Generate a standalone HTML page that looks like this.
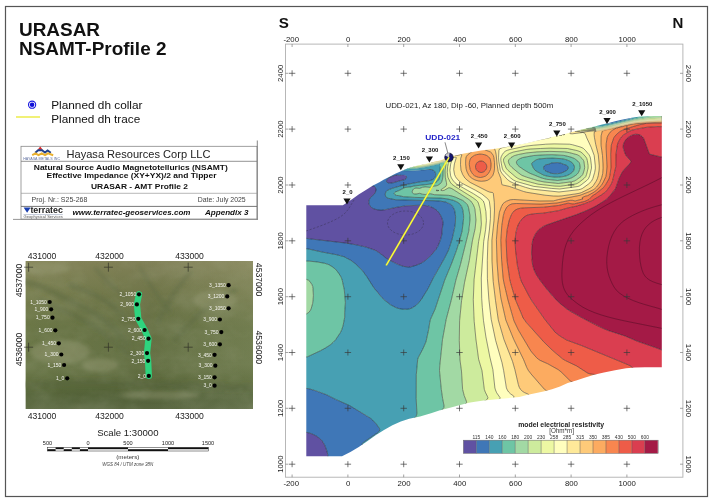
<!DOCTYPE html>
<html><head><meta charset="utf-8"><style>
html,body{margin:0;padding:0;background:#fff;width:714px;height:504px;overflow:hidden}
svg{display:block;font-family:"Liberation Sans",Arial,sans-serif}
</style></head><body>
<svg width="714" height="504" viewBox="0 0 714 504">
<defs>
<filter id="tex" x="0" y="0" width="100%" height="100%">
<feTurbulence type="fractalNoise" baseFrequency="0.035 0.05" numOctaves="4" seed="7" result="n"/>
<feColorMatrix in="n" type="matrix" values="0 0 0 0 0.45  0 0 0 0 0.48  0 0 0 0 0.34  -1.6 0 0 0 1.05" result="c"/>
<feComposite in="c" in2="SourceGraphic" operator="in"/>
</filter>
</defs>
<!-- outer frame -->
<rect x="5.5" y="6.5" width="702" height="490" fill="none" stroke="#555" stroke-width="1.2"/>
<!-- title -->
<text x="19" y="35.7" font-size="18.6" font-weight="bold" fill="#111" textLength="81" lengthAdjust="spacingAndGlyphs">URASAR</text>
<text x="19" y="55.2" font-size="18.6" font-weight="bold" fill="#111" textLength="147.5" lengthAdjust="spacingAndGlyphs">NSAMT-Profile 2</text>
<!-- legend -->
<circle cx="32.1" cy="104.7" r="3.6" fill="#fff" stroke="#1818e0" stroke-width="1.1"/>
<circle cx="32.1" cy="104.7" r="2.3" fill="#1010d8"/>
<line x1="16" y1="117" x2="40" y2="117" stroke="#eeee55" stroke-width="1.6"/>
<text x="51.2" y="109" font-size="11.6" fill="#111" textLength="91.3" lengthAdjust="spacingAndGlyphs">Planned dh collar</text>
<text x="51.2" y="122.6" font-size="11.6" fill="#111" textLength="89" lengthAdjust="spacingAndGlyphs">Planned dh trace</text>
<!-- title block -->
<g id="tblock">
<rect x="21" y="146.3" width="236" height="72.8" fill="#fff" stroke="#888" stroke-width="0.8"/>
<line x1="21" y1="161.3" x2="257" y2="161.3" stroke="#777" stroke-width="0.8"/>
<line x1="21" y1="193.3" x2="257" y2="193.3" stroke="#999" stroke-width="0.7"/>
<line x1="21" y1="206.4" x2="257" y2="206.4" stroke="#666" stroke-width="0.9"/>
<line x1="13" y1="219.4" x2="258" y2="219.4" stroke="#888" stroke-width="0.9"/>
<line x1="257.3" y1="140.5" x2="257.3" y2="219.5" stroke="#777" stroke-width="0.9"/>
<text x="66.5" y="158.1" font-size="10.4" fill="#222" textLength="144" lengthAdjust="spacingAndGlyphs">Hayasa Resources Corp LLC</text>
<text x="33.8" y="169.9" font-size="8" font-weight="bold" fill="#111" textLength="194" lengthAdjust="spacingAndGlyphs">Natural Source Audio Magnetotellurics (NSAMT)</text>
<text x="46.5" y="178.4" font-size="8" font-weight="bold" fill="#111" textLength="170" lengthAdjust="spacingAndGlyphs">Effective Impedance (XY+YX)/2 and Tipper</text>
<text x="91" y="189" font-size="8" font-weight="bold" fill="#111" textLength="97" lengthAdjust="spacingAndGlyphs">URASAR - AMT Profile 2</text>
<text x="31.6" y="202.3" font-size="6.5" fill="#444" textLength="55.8" lengthAdjust="spacingAndGlyphs">Proj. Nr.: S25-268</text>
<text x="197.7" y="202.3" font-size="6.5" fill="#444" textLength="48" lengthAdjust="spacingAndGlyphs">Date: July 2025</text>
<text x="72.5" y="215.3" font-size="7.8" font-weight="bold" font-style="italic" fill="#111" textLength="118" lengthAdjust="spacingAndGlyphs">www.terratec-geoservices.com</text>
<text x="205" y="215.3" font-size="7.8" font-weight="bold" font-style="italic" fill="#111" textLength="43.5" lengthAdjust="spacingAndGlyphs">Appendix 3</text>
<!-- hayasa logo -->
<path d="M37.6,149.8 L40.2,146.6 L42.8,149.8 Z" fill="#d82a2a"/>
<polyline points="35.2,152.8 38.2,150.2 42,150.2 45,152.6 47.6,150.4 50.8,152.8" fill="none" stroke="#22408a" stroke-width="1.9"/>
<polyline points="32.2,155.2 35.5,153.4 38.5,155.2 41.8,153.4 45,155.2 48,153.4 53.2,155.2" fill="none" stroke="#e8b030" stroke-width="2"/>
<text x="23.2" y="160" font-size="3" fill="#6070a0" textLength="37" lengthAdjust="spacingAndGlyphs">HAYASA METALS INC</text>
<!-- terratec logo -->
<path d="M23.6,207.4 L30.6,207.4 L27.1,212.8 Z" fill="#1a3fb0"/>
<text x="30.4" y="212.8" font-size="8.8" font-weight="bold" fill="#222" textLength="32.5" lengthAdjust="spacingAndGlyphs">terratec</text>
<line x1="23.5" y1="214.6" x2="62.8" y2="214.6" stroke="#8090b0" stroke-width="0.5"/>
<text x="23.5" y="218.3" font-size="3.3" fill="#555" textLength="39.3" lengthAdjust="spacingAndGlyphs">Geophysical Services</text>
</g>
<!-- MAP -->
<g id="map">
<linearGradient id="mapg" x1="0" y1="0" x2="0" y2="1">
<stop offset="0" stop-color="#86865a"/><stop offset="0.2" stop-color="#787e4f"/><stop offset="0.45" stop-color="#6a7646"/>
<stop offset="0.7" stop-color="#6b7849"/><stop offset="0.82" stop-color="#5e6c3c"/><stop offset="0.9" stop-color="#56653a"/><stop offset="1" stop-color="#5f6d45"/>
</linearGradient>
<linearGradient id="maph" x1="0" y1="0" x2="1" y2="0">
<stop offset="0" stop-color="#000" stop-opacity="0"/><stop offset="0.55" stop-color="#000" stop-opacity="0.06"/><stop offset="1" stop-color="#fff" stop-opacity="0.05"/>
</linearGradient>
<filter id="blur2"><feGaussianBlur stdDeviation="2"/></filter>
<filter id="blur1"><feGaussianBlur stdDeviation="1"/></filter>
<clipPath id="mapclip"><rect x="25.4" y="261" width="227.6" height="148"/></clipPath>
<g clip-path="url(#mapclip)">
<rect x="25.4" y="261" width="227.6" height="148" fill="url(#mapg)"/>
<rect x="25.4" y="261" width="227.6" height="148" fill="url(#maph)"/>
<g fill="none" stroke="#57663f" stroke-opacity="0.45" filter="url(#blur2)" stroke-linecap="round">
<path d="M25 282 C45 286 60 296 80 306 S110 322 128 345" stroke-width="5"/>
<path d="M40 300 C60 310 85 318 100 330 S120 350 140 360" stroke-width="4"/>
<path d="M70 285 C90 292 110 300 125 318" stroke-width="4"/>
<path d="M95 268 C105 280 118 292 130 300" stroke-width="3"/>
<path d="M190 272 C180 285 168 300 158 322" stroke-width="4"/>
<path d="M235 290 C215 300 195 315 175 340" stroke-width="4"/>
<path d="M140 268 C150 285 160 300 170 312" stroke-width="3"/>
<path d="M25 385 C80 380 140 384 253 388" stroke-width="6"/>
</g>
<g fill="#9da17c" opacity="0.4" filter="url(#blur2)">
<ellipse cx="60" cy="352" rx="30" ry="12"/><ellipse cx="100" cy="365" rx="18" ry="7"/><ellipse cx="45" cy="268" rx="25" ry="6"/>
<ellipse cx="215" cy="300" rx="22" ry="10"/><ellipse cx="160" cy="395" rx="40" ry="4"/>
</g>
<rect x="25.4" y="261" width="227.6" height="148" fill="#000" filter="url(#tex)" opacity="0.2"/>
</g>
</g>
<g font-size="8.6" fill="#222" text-anchor="middle">
<text x="42.0" y="258.6">431000</text>
<text x="42.0" y="419.3">431000</text>
<text x="109.5" y="258.6">432000</text>
<text x="109.5" y="419.3">432000</text>
<text x="189.5" y="258.6">433000</text>
<text x="189.5" y="419.3">433000</text>
<text transform="translate(22.2,280.5) rotate(-90)">4537000</text>
<text transform="translate(256.2,279.6) rotate(90)">4537000</text>
<text transform="translate(22.2,349.5) rotate(-90)">4536000</text>
<text transform="translate(256.2,347.3) rotate(90)">4536000</text>
</g>
<g stroke="#2a2a22" stroke-width="0.8" opacity="0.8">
<path d="M24.1 267.2h9M28.6 262.7v9"/>
<path d="M24.1 347.2h9M28.6 342.7v9"/>
<path d="M103.9 267.2h9M108.4 262.7v9"/>
<path d="M103.9 347.2h9M108.4 342.7v9"/>
<path d="M183.7 267.2h9M188.2 262.7v9"/>
<path d="M183.7 347.2h9M188.2 342.7v9"/>
</g>
<polyline points="139.0,294.3 136.9,304.4 138.3,318.8 144.6,330.0 148.5,338.7 147.0,353.1 148.1,360.8 148.8,375.9" fill="none" stroke="#2ed47e" stroke-width="6.3" stroke-linejoin="round" stroke-linecap="round"/>
<g fill="#000">
<circle cx="49.7" cy="302.0" r="2.1"/>
<circle cx="51.1" cy="309.3" r="2.1"/>
<circle cx="52.5" cy="317.7" r="2.1"/>
<circle cx="55.3" cy="330.3" r="2.1"/>
<circle cx="58.8" cy="343.3" r="2.1"/>
<circle cx="61.3" cy="354.5" r="2.1"/>
<circle cx="64.1" cy="365.0" r="2.1"/>
<circle cx="67.2" cy="378.3" r="2.1"/>
<circle cx="139.0" cy="294.3" r="2.1"/>
<circle cx="136.9" cy="304.4" r="2.1"/>
<circle cx="138.3" cy="318.8" r="2.1"/>
<circle cx="144.6" cy="330.0" r="2.1"/>
<circle cx="148.5" cy="338.7" r="2.1"/>
<circle cx="147.0" cy="353.1" r="2.1"/>
<circle cx="148.1" cy="360.8" r="2.1"/>
<circle cx="148.8" cy="375.9" r="2.1"/>
<circle cx="228.6" cy="285.2" r="2.1"/>
<circle cx="227.2" cy="296.4" r="2.1"/>
<circle cx="228.6" cy="308.3" r="2.1"/>
<circle cx="219.9" cy="319.5" r="2.1"/>
<circle cx="221.3" cy="332.1" r="2.1"/>
<circle cx="219.9" cy="344.3" r="2.1"/>
<circle cx="214.6" cy="354.8" r="2.1"/>
<circle cx="215.3" cy="365.7" r="2.1"/>
<circle cx="214.6" cy="377.3" r="2.1"/>
<circle cx="214.6" cy="385.7" r="2.1"/>
</g>
<g font-size="5" fill="#f4f4f0" text-anchor="end">
<text x="46.9" y="303.7">1_1050</text>
<text x="48.3" y="311.0">1_900</text>
<text x="49.7" y="319.4">1_750</text>
<text x="52.5" y="332.0">1_600</text>
<text x="56.0" y="345.0">1_450</text>
<text x="58.5" y="356.2">1_300</text>
<text x="61.3" y="366.7">1_150</text>
<text x="64.4" y="380.0">1_0</text>
<text x="136.2" y="296.0">2_1050</text>
<text x="134.1" y="306.1">2_900</text>
<text x="135.5" y="320.5">2_750</text>
<text x="141.8" y="331.7">2_600</text>
<text x="145.7" y="340.4">2_450</text>
<text x="144.2" y="354.8">2_300</text>
<text x="145.3" y="362.5">2_150</text>
<text x="146.0" y="377.6">2_0</text>
<text x="225.8" y="286.9">3_1350</text>
<text x="224.4" y="298.1">3_1200</text>
<text x="225.8" y="310.0">3_1050</text>
<text x="217.1" y="321.2">3_900</text>
<text x="218.5" y="333.8">3_750</text>
<text x="217.1" y="346.0">3_600</text>
<text x="211.8" y="356.5">3_450</text>
<text x="212.5" y="367.4">3_300</text>
<text x="211.8" y="379.0">3_150</text>
<text x="211.8" y="387.4">3_0</text>
</g>
<text x="127.8" y="436.3" font-size="9.6" fill="#222" text-anchor="middle">Scale 1:30000</text>
<g font-size="5.6" fill="#222" text-anchor="middle">
<text x="47.5" y="445.3">500</text>
<text x="88.0" y="445.3">0</text>
<text x="128.0" y="445.3">500</text>
<text x="168.0" y="445.3">1000</text>
<text x="208.0" y="445.3">1500</text>
</g>
<rect x="47.5" y="447.4" width="160.8" height="3.6" fill="#fff" stroke="#222" stroke-width="0.5"/>
<rect x="47.5" y="449.2" width="8.1" height="1.8" fill="#111"/>
<rect x="55.6" y="447.4" width="8.1" height="1.8" fill="#111"/>
<rect x="63.7" y="449.2" width="8.1" height="1.8" fill="#111"/>
<rect x="71.8" y="447.4" width="8.1" height="1.8" fill="#111"/>
<rect x="79.9" y="449.2" width="8.1" height="1.8" fill="#111"/>
<rect x="88.0" y="447.4" width="40.0" height="1.8" fill="#111"/>
<rect x="128.0" y="449.2" width="40.0" height="1.8" fill="#111"/>
<rect x="168.0" y="447.4" width="40.3" height="1.8" fill="#111"/>
<text x="127.8" y="459.4" font-size="6.2" fill="#333" text-anchor="middle">(meters)</text>
<text x="127.8" y="466" font-size="4.5" font-style="italic" fill="#444" text-anchor="middle">WGS 84 / UTM zone 38N</text>
<!-- PLOT -->
<g id="plotstatic">
<rect x="285.5" y="44.1" width="397.4" height="433.1" fill="none" stroke="#b0b0b0" stroke-width="0.9"/>
<text x="291.2" y="41.8" font-size="7.8" fill="#222" text-anchor="middle">-200</text>
<text x="291.2" y="485.9" font-size="7.8" fill="#222" text-anchor="middle">-200</text>
<line x1="292.1" y1="44.1" x2="292.1" y2="47" stroke="#666" stroke-width="0.6"/>
<line x1="292.1" y1="474.5" x2="292.1" y2="477.2" stroke="#666" stroke-width="0.6"/>
<text x="348.2" y="41.8" font-size="7.8" fill="#222" text-anchor="middle">0</text>
<text x="348.2" y="485.9" font-size="7.8" fill="#222" text-anchor="middle">0</text>
<line x1="347.9" y1="44.1" x2="347.9" y2="47" stroke="#666" stroke-width="0.6"/>
<line x1="347.9" y1="474.5" x2="347.9" y2="477.2" stroke="#666" stroke-width="0.6"/>
<text x="404.0" y="41.8" font-size="7.8" fill="#222" text-anchor="middle">200</text>
<text x="404.0" y="485.9" font-size="7.8" fill="#222" text-anchor="middle">200</text>
<line x1="403.7" y1="44.1" x2="403.7" y2="47" stroke="#666" stroke-width="0.6"/>
<line x1="403.7" y1="474.5" x2="403.7" y2="477.2" stroke="#666" stroke-width="0.6"/>
<text x="459.8" y="41.8" font-size="7.8" fill="#222" text-anchor="middle">400</text>
<text x="459.8" y="485.9" font-size="7.8" fill="#222" text-anchor="middle">400</text>
<line x1="459.5" y1="44.1" x2="459.5" y2="47" stroke="#666" stroke-width="0.6"/>
<line x1="459.5" y1="474.5" x2="459.5" y2="477.2" stroke="#666" stroke-width="0.6"/>
<text x="515.6" y="41.8" font-size="7.8" fill="#222" text-anchor="middle">600</text>
<text x="515.6" y="485.9" font-size="7.8" fill="#222" text-anchor="middle">600</text>
<line x1="515.3" y1="44.1" x2="515.3" y2="47" stroke="#666" stroke-width="0.6"/>
<line x1="515.3" y1="474.5" x2="515.3" y2="477.2" stroke="#666" stroke-width="0.6"/>
<text x="571.4" y="41.8" font-size="7.8" fill="#222" text-anchor="middle">800</text>
<text x="571.4" y="485.9" font-size="7.8" fill="#222" text-anchor="middle">800</text>
<line x1="571.1" y1="44.1" x2="571.1" y2="47" stroke="#666" stroke-width="0.6"/>
<line x1="571.1" y1="474.5" x2="571.1" y2="477.2" stroke="#666" stroke-width="0.6"/>
<text x="627.2" y="41.8" font-size="7.8" fill="#222" text-anchor="middle">1000</text>
<text x="627.2" y="485.9" font-size="7.8" fill="#222" text-anchor="middle">1000</text>
<line x1="626.9" y1="44.1" x2="626.9" y2="47" stroke="#666" stroke-width="0.6"/>
<line x1="626.9" y1="474.5" x2="626.9" y2="477.2" stroke="#666" stroke-width="0.6"/>
<text transform="translate(282.6,464.2) rotate(-90)" font-size="7.8" fill="#222" text-anchor="middle">1000</text>
<text transform="translate(685.7,464.2) rotate(90)" font-size="7.8" fill="#222" text-anchor="middle">1000</text>
<line x1="285.5" y1="464.2" x2="288.3" y2="464.2" stroke="#666" stroke-width="0.6"/>
<line x1="680" y1="464.2" x2="682.9" y2="464.2" stroke="#666" stroke-width="0.6"/>
<text transform="translate(282.6,408.3) rotate(-90)" font-size="7.8" fill="#222" text-anchor="middle">1200</text>
<text transform="translate(685.7,408.3) rotate(90)" font-size="7.8" fill="#222" text-anchor="middle">1200</text>
<line x1="285.5" y1="408.3" x2="288.3" y2="408.3" stroke="#666" stroke-width="0.6"/>
<line x1="680" y1="408.3" x2="682.9" y2="408.3" stroke="#666" stroke-width="0.6"/>
<text transform="translate(282.6,352.5) rotate(-90)" font-size="7.8" fill="#222" text-anchor="middle">1400</text>
<text transform="translate(685.7,352.5) rotate(90)" font-size="7.8" fill="#222" text-anchor="middle">1400</text>
<line x1="285.5" y1="352.5" x2="288.3" y2="352.5" stroke="#666" stroke-width="0.6"/>
<line x1="680" y1="352.5" x2="682.9" y2="352.5" stroke="#666" stroke-width="0.6"/>
<text transform="translate(282.6,296.7) rotate(-90)" font-size="7.8" fill="#222" text-anchor="middle">1600</text>
<text transform="translate(685.7,296.7) rotate(90)" font-size="7.8" fill="#222" text-anchor="middle">1600</text>
<line x1="285.5" y1="296.7" x2="288.3" y2="296.7" stroke="#666" stroke-width="0.6"/>
<line x1="680" y1="296.7" x2="682.9" y2="296.7" stroke="#666" stroke-width="0.6"/>
<text transform="translate(282.6,240.8) rotate(-90)" font-size="7.8" fill="#222" text-anchor="middle">1800</text>
<text transform="translate(685.7,240.8) rotate(90)" font-size="7.8" fill="#222" text-anchor="middle">1800</text>
<line x1="285.5" y1="240.8" x2="288.3" y2="240.8" stroke="#666" stroke-width="0.6"/>
<line x1="680" y1="240.8" x2="682.9" y2="240.8" stroke="#666" stroke-width="0.6"/>
<text transform="translate(282.6,185.0) rotate(-90)" font-size="7.8" fill="#222" text-anchor="middle">2000</text>
<text transform="translate(685.7,185.0) rotate(90)" font-size="7.8" fill="#222" text-anchor="middle">2000</text>
<line x1="285.5" y1="185.0" x2="288.3" y2="185.0" stroke="#666" stroke-width="0.6"/>
<line x1="680" y1="185.0" x2="682.9" y2="185.0" stroke="#666" stroke-width="0.6"/>
<text transform="translate(282.6,129.1) rotate(-90)" font-size="7.8" fill="#222" text-anchor="middle">2200</text>
<text transform="translate(685.7,129.1) rotate(90)" font-size="7.8" fill="#222" text-anchor="middle">2200</text>
<line x1="285.5" y1="129.1" x2="288.3" y2="129.1" stroke="#666" stroke-width="0.6"/>
<line x1="680" y1="129.1" x2="682.9" y2="129.1" stroke="#666" stroke-width="0.6"/>
<text transform="translate(282.6,73.3) rotate(-90)" font-size="7.8" fill="#222" text-anchor="middle">2400</text>
<text transform="translate(685.7,73.3) rotate(90)" font-size="7.8" fill="#222" text-anchor="middle">2400</text>
<line x1="285.5" y1="73.3" x2="288.3" y2="73.3" stroke="#666" stroke-width="0.6"/>
<line x1="680" y1="73.3" x2="682.9" y2="73.3" stroke="#666" stroke-width="0.6"/>
<text x="283.7" y="27.8" font-size="15.2" font-weight="bold" fill="#111" text-anchor="middle">S</text>
<text x="677.9" y="27.9" font-size="15" font-weight="bold" fill="#111" text-anchor="middle">N</text>
</g>
<clipPath id="dclip"><polygon points="306.3,205.2 342.9,205.2 352.4,198.9 359.0,194.2 366.7,189.4 373.0,185.6 379.4,182.2 384.0,179.6 390.0,176.6 395.2,173.8 401.0,171.2 407.8,168.3 414.0,166.4 420.4,164.9 427.0,163.5 433.1,162.1 440.0,160.4 447.4,157.8 453.5,155.9 458.6,154.8 464.0,153.5 469.8,152.4 475.5,151.4 481.0,150.6 487.0,149.8 492.2,149.2 498.0,148.3 505.0,147.2 512.0,146.0 518.0,145.0 524.3,143.8 530.0,142.5 536.0,141.0 541.2,139.8 548.0,138.2 554.0,136.6 560.0,135.2 566.0,133.7 570.0,132.6 576.0,131.0 582.9,129.3 589.0,127.8 595.8,126.2 602.0,124.6 608.7,123.0 615.0,121.3 621.5,119.7 628.0,118.4 634.4,117.2 641.0,116.6 647.3,116.3 654.0,116.1 661.8,116.0 661.8,367.3 645.0,367.3 635.0,367.5 626.1,368.2 615.0,370.3 603.9,372.6 595.0,374.6 584.5,377.8 576.2,380.4 567.7,383.0 560.0,386.5 552.0,389.3 544.5,391.3 537.5,392.8 528.0,394.8 519.2,396.9 507.2,398.2 494.0,399.6 483.7,400.6 475.0,401.8 468.8,402.8 460.2,405.0 450.0,407.8 440.0,410.3 431.0,413.2 420.0,416.6 409.2,418.8 400.8,421.5 392.4,425.2 384.0,429.9 375.6,435.3 367.2,441.2 358.8,447.1 350.4,452.1 342.0,456.2 306.3,456.2"/></clipPath>
<g clip-path="url(#dclip)">
<g stroke="none"><path d="M300.7 110l17.6 0 .4 1.4 1.3 2.1 18.9 25.2 17.1 20.4 11.1 14.6 3.6 5.6 .2 1.4 -.2 .7 -2.1 2.1 -5.8 3.5 -3 2.1 .4 .6 2.8-.6 9.1-3.1 1.4-.1 .9 .4 .7 .7 1 2.1 0 1.4 -.5 1.5 -1.3 2 -3.8 3.5 -.9 1.4 -.8 2.1 0 2.1 .4 1.4 .8 1.4 1.4 1.6 2 1.2 2.9 .9 2.8 .5 2.8 0 3.5-.4 11.2-2.4 8.4-1.4 17.6-.7 5.3 .7 4.2 1.4 4.4 2.8 2.1 2.2 1.4 1.9 1.4 2.7 1.3 3.7 .3 2.1 0 2.1 -.8 4.2 -.2 4.9 -1.2 4.9 -2.2 5.9 -2.1 4.1 -4.2 5.2 -7 6.6 -4.3 2.7 -5.1 2.1 -6 1.6 -4.9-.3 -5.6-1.6 -9.6-4.6 -3.4-2.1 -6.6-5.2 -4.2-2.7 -10.5-3.7 -9.1-2 -8.4-1.4 -38.5-4.6 -8-1.4 -1-.7 -.1-126.7zM396.6 175.1l2.8 .3 2.8-.4 2.1 .1 1.6 .7 .6 .7 .2 .7 -.7 1.4 -1.7 1.2 -4.2 .9 -7 2.1 -3.5 .4 -1.6-.4 -1.1-.7 -.4-.7 .3-1.4 1.8-2.1 2.4-1.1 5.1-1.7zM300 424.3l0 7 .7 .7 6.3 .4 4.9 1.4 4.9 2.5 3.5 2.7 2 2.1 2.5 4.2 2.1 5.6 .8 3.5 .7 7.7 -28.4 0 0-37.8zM342.7 460l0 .7 1.4 1.4 -8.4 0 1.4 0 .7-.7 2.1 0 .7-.7 1.4 0 .7-.7z" fill="#6051a2"/><path d="M318.9 110l83.3 0 0 7 .7 .7 0 1.4 .7 .7 0-9.8 1.2 0 0 59.5 -.5 .6 -.6-.6 -.1-7.7 -1.4 0 -.7 .7 -2.1 0 -.7 .7 -2.1 0 -.7 .7 -1.4 0 -.7 .7 -2.1 0 -.7 .7 -2.1 0 -.7 .7 5.6 .1 1.4 .2 3 2.5 2.5 1.4 3.8 .7 3.3 .1 7.7-.4 12.6-1.2 3.5 .2 2.1 .8 1.1 1.2 .9 2.1 -.1 2.1 -.5 1.4 -1.1 1.4 -1 .8 -2.1 .9 -2.1 .5 -8.4 1 -15.4 2.9 -11.2 3.1 -4.2 1.5 -2.4 1.2 -1.3 1.4 -.7 2.1 .3 2.1 1 1.4 1.3 .7 8.1 1.6 36.4 .9 6.5 .3 5.6 .7 2.6 .7 3.9 2.1 1.4 1.4 1.8 2.8 .8 2.8 .7 4.9 -.4 8.4 -2.8 13.3 -4 12.4 -4.2 8.3 -10.2 17.8 -5.9 11.9 -5.6 9.2 -2.1 3 -3.5 3.9 -2.7 2.1 -2.5 1.4 -1.9 .7 -2.7 .4 -3.5 .1 -3.5-.4 -2.8-.8 -2.8-1.2 -3.1-1.6 -2.5-1.8 -6.3-5.2 -6.3-7.3 -4.2-5.7 -5.8-9.4 -4.7-6.3 -8.4-7.7 -6.9-4.2 -2.9-1.3 -3.1-.8 -18-3.5 -13.9-3.2 -4.2-.3 -4.2 .7 0-15.9 .1 3.3 1 .7 8.2 1.4 37.6 4.4 9.1 1.6 9.8 2.2 8.4 2.9 2.1 1 4.2 2.8 7 5.5 11 5.5 5.8 1.9 3.5 .4 2.1 0 7.7-2.2 4.7-2.2 3.7-2.6 6.3-6 3.5-4.3 2.1-3.4 2.8-7.1 1.4-6 .1-4.2 .9-5.6 -.4-2.8 -1.3-3.7 -1.4-2.7 -2.7-3.4 -2.8-2.1 -4.1-2.1 -3-.8 -5.6-.6 -16.1 .6 -9.1 1.5 -11.9 2.5 -3.5 .4 -3.5-.3 -2.8-.7 -2.1-.8 -1.6-1.1 -1.2-1.4 -1.1-2.1 -.1-2.8 .8-2.1 .9-1.4 3.7-3.4 1.1-1.5 .8-2.8 -.6-2.1 -1.3-1.5 -1.4-.3 -1.4 .2 -8.4 3 -2.8 .6 -.4-.6 .9-.7 7.9-4.9 1.4-1.1 .9-1.7 -.2-1.5 -3.6-5.5 -11.1-14.6 -17.1-20.4 -18.9-25.2 -1.3-2.1 -.4-1.4zM396.1 175.1l-5.1 1.7 -2.4 1.1 -1.8 2.1 -.3 1.4 .4 .7 1.1 .7 1.6 .4 3.5-.4 7-2.1 4.2-.9 1.7-1.2 .7-1.4 -.2-.7 -.6-.7 -1.6-.7 -2.1-.1 -2.8 .4 -2.8-.3zM605.9 110l26.4 0 -.1 7.7 -2.5 1.1 -14.7 3.6 -6.3 1.1 -2.8-.1 -.3-.1 0-13.3zM551.3 163.1l2.1-.4 2.8-.1 2.8 .1 2.1 .5 2.1 1 2.8 .8 1.4 .9 .9 1.5 -.2 1.4 -1.4 1.7 -3.6 1.8 -2.7 1 -5.6 .4 -4.2-.6 -4.2-1.7 -1.4-.9 -1.3-1.7 -.2-1.4 .7-1.4 1.5-1.2 2.8-.5 2.6-1.1zM300.7 388.2l5.6 .2 2.8 .4 7 2.1 10.5 3.9 9.1 4.6 14 6.2 20.3 12.3 2.6 2.2 3.7 3.9 3.2 4.5 .3 1.4 -.7 1.4 -1.4 1.4 -14.3 9.8 -1.4 1.4 .1 .7 2.3 .1 5.6-.8 2.1 .1 3.5 1.3 4.9 2.8 .7 .7 1.4 0 .7-.7 2.1 0 .7-.7 1.4 0 .7-.7 2.1 0 .7-.7 1.4 0 .7-.7 2.1 0 .7-.7 1.4 0 .7-.7 .7 0 0 1.4 .7 .7 0 .7 .7 .7 0 1.4 .7 .7 0 .7 .7 .7 0 .7 .7 .7 0 1.4 .7 .7 0 .7 .7 .7 0 1.4 .7 .7 0 .7 .7 .7 0 1.4 .7 .7 0 .7 -61.6 0 -1.4-1.4 0-.7 -.7 .7 -1.4 0 -.7 .7 -2.1 0 -.7 .7 -8.7 0 -.7-7.7 -.8-3.5 -2.1-5.6 -1.5-2.8 -1.6-2.2 -1.4-1.3 -3.5-2.7 -4.9-2.5 -4.9-1.4 -6.3-.4 -.7-.7 0-43.1z" fill="#3f77b7"/><path d="M402.9 110l.7 0 0 9.8 -.7-.7 0-1.4 -.7-.7 0-7zM405 110l2.6 0 0 58.1 .7 .7 .9 .2 7-.5 9.8-1.6 9.1-1.9 1.4-.5 2.1-.3 .5-.3 1.1 0 -.1 11.2 -.5 2.8 -1 2.1 -1.4 1.5 -2.1 1.3 -5.6 1.4 -15.4 1.8 -3.5 .9 -5.6 .6 -6.3 3.2 -3.2 1.2 -.8 .7 -.5 .7 .1 .7 .6 .7 1.5 .7 2.3 .2 4.9 1.1 11.2 .7 25.9 .7 6.3 .7 6.3 1.5 3.2 1.4 2.4 1.4 2 2.1 1.7 3.5 1 7 -.1 3.5 -1.3 11.2 -2.5 9.8 -2.9 9.3 -5.1 13.8 -7 16.8 -9.6 29 -4.6 10.2 -.7 2.8 -1.2 7.7 -2.6 12 -3.5 7.9 -4 7.4 -.8 2.1 -1.4 15.4 -.1 23.8 .7 14.7 -.3 2.1 -.8 1.4 -1.2 1.4 -3.4 2.8 -20 12.6 -2.8 2.1 -.4 .7 .9 .3 1.4 0 11.2-2 2.1-.1 3.1 1.1 6.7 3.3 2.8 .2 .7-.7 2.1 0 .7-.7 1.4 0 .7-.7 2.1 0 .7-.7 1.4 0 .7-.7 1.4 0 .7-.7 .7 0 .7 .7 0 1.4 .7 .7 0 2.1 .7 .7 0 1.4 .7 .7 0 1.4 .7 .7 0 1.4 .7 .7 0 1.4 .7 .7 0 1.4 .7 .7 0 1.4 .7 .7 0 1.4 .7 .7 0 2.1 .7 .7 0 1.4 .7 .7 0 1.4 .7 .7 -32.9 0 0-.7 -.7-.7 0-1.4 -.7-.7 0-.7 -.7-.7 0-1.4 -.7-.7 0-.7 -.7-.7 0-1.4 -.7-.7 0-.7 -.7-.7 0-.7 -.7-.7 0-1.4 -.7-.7 0-.7 -.7-.7 0-1.4 -.7 0 -.7 .7 -1.4 0 -.7 .7 -2.1 0 -.7 .7 -1.4 0 -.7 .7 -2.1 0 -.7 .7 -1.4 0 -.7 .7 -2.1 0 -.7 .7 -1.4 0 -.7-.7 -4.9-2.8 -3.5-1.3 -2.1-.1 -5.6 .8 -2.3-.1 -.1-.7 1.4-1.4 12.5-8.4 2.6-2.1 1.1-1.4 .2-1.4 -.7-1.4 -3.2-4.2 -4.1-4.2 -3.8-2.8 -17.6-10.6 -16.1-7.3 -7-3.6 -10.5-4 -7.7-2.3 -2.8-.4 -6.3-.2 0-30.7 4.9-.3 2.8-.5 12.6-5.9 4.9-2.7 4.9-3.1 3-2.6 2.6-2.8 4.7-7 1.3-2.8 1.4-4.2 1.6-8.4 0-4.9 .7-9.8 -1-11.9 -2-9.8 -.9-2.8 -1.1-2.1 -4-5.7 -2.1-2 -4.2-2.8 -2.8-1.4 -2.1-.6 -8.4-1.5 -7-.7 -6.3-.3 -3.5 .3 0-11.9 4.2-.7 4.2 .3 13.9 3.2 10.6 1.9 8.4 1.8 3.5 1.2 2.8 1.4 6.3 4 7.7 7.2 5.2 7 7.4 11.7 4.9 6.1 4.2 4.6 7 5.6 4.2 2.3 2.8 1.2 2.5 .7 5.2 .5 4.8-.5 3.6-1.6 3.5-2.6 4.2-4.9 7-11.2 5.2-10.5 10.9-19.2 4.7-9.5 3.8-12.6 2.3-10.5 .6-7 -.2-4.2 -.8-4.9 -1.3-2.8 -2.4-2.8 -2.3-1.4 -3-1.1 -6.8-1 -43.6-1.3 -7.4-1.5 -1.3-.7 -1-1.4 -.3-2.1 .7-2.1 1.3-1.4 2.4-1.2 4.2-1.5 11.2-3.1 15.4-2.9 8.4-1 2.1-.5 2.1-.9 1-.8 1.1-1.4 .5-1.4 .1-2.1 -.9-2.1 -1.1-1.2 -2.1-.8 -3.5-.2 -12.6 1.2 -7.7 .4 -3.3-.1 -3.8-.7 -2.5-1.4 -3-2.5 -1.4-.2 -5.6-.1 .7-.7 2.1 0 .7-.7 2.1 0 .7-.7 1.4 0 .7-.7 2.1 0 .7-.7 2.1 0 .7-.7 1.4 0 .1 7.7 .6 .6 .5-.6 0-59.5zM596.8 110l8.8 0 0 13.3 1 .3 2.8-.2 4.6-.8 17-4.2 1.2-.7 .1-7.7 7.7 0 0 6.3 -.4 .7 -1.8 .7 -7.4 2.1 -21.7 5.1 -8.4 1.5 -2.1 0 -1.4-.3 -.1-.7 0-15.4zM546.4 158.3l6.3-.2 9.1 .6 3.5 .7 3.5 1.3 2.8 1.5 2 2.4 .7 1.4 .2 1.4 -.6 2.8 -1.5 2.1 -2.9 2.1 -2.8 1.3 -3.5 .9 -4.9 .6 -4.2-.1 -7-.9 -3.5-1.1 -6.6-3.5 -2-1.4 -1.6-2.1 -1.9-4.2 .3-.7 1.5-1.4 3.1-2.1 3-.8 6.6-.6zM551.1 163.2l-2.6 1.1 -2.8 .5 -1.5 1.2 -.7 1.4 .2 1.4 1.3 1.7 1.4 .9 4.2 1.7 4.2 .6 5.6-.4 2.7-1 3.6-1.8 1.4-1.7 .2-1.4 -.9-1.5 -1.4-.9 -2.8-.8 -2.1-1 -2.1-.5 -2.8-.1 -2.8 .1 -2.1 .4z" fill="#47a0b3"/><path d="M407.8 110l2.6 0 0 57.4 1.6 .6 4.2-.1 11.8-1.9 12-2.7 2.8-.9 1.6 .1 -1.2 5.6 -.2 7.7 -.5 3.5 -.9 2.8 -1.6 1.9 -2.7 1.6 -4.3 .8 -2.8 1 -4.9-.5 -2.8 .4 -2.8 1.1 -3.5-.3 -1.4 .2 -1.3 .8 -.6 .7 -.6 1.4 0 1.4 1.1 1 1.4 .4 1.4 0 3.5-.7 2.8 .9 2.8 .3 4.9-.8 4.2 1 14 .6 2.8 .5 4.2 1.3 7.1 3.2 2 1.4 2.8 2.8 1.2 2.8 1.3 7 .3 4.9 -1.3 11.9 -8.4 33.6 -4.5 15.4 -4.7 20.3 -5 18.9 -3.7 20.3 -2.7 25.9 -.3 4.9 1.8 18.9 1.3 9.1 1.4 7 -.1 2.1 -1.5 2.1 -3.5 2.8 -20.9 12.6 -3.1 2.1 -1.6 1.4 .6 .7 3-.2 15.4-3.3 2.1-.2 3.4 .9 5.6 2.8 .8 .6 3.5 .1 .7-.7 1.4 0 .7-.7 2.1 0 0 1.4 .7 .7 0 3.5 .7 .7 0 2.8 .7 .7 0 3.5 .7 .7 0 2.8 .7 .7 0 3.5 .7 .7 0 2.8 .7 .7 0 3.5 .7 .7 0 2.8 .7 .7 0 .7 -20.3 0 -.7-.7 0-1.4 -.7-.7 0-1.4 -.7-.7 0-2.1 -.7-.7 0-1.4 -.7-.7 0-1.4 -.7-.7 0-1.4 -.7-.7 0-1.4 -.7-.7 0-1.4 -.7-.7 0-1.4 -.7-.7 0-1.4 -.7-.7 0-2.1 -.7-.7 0-1.4 -.7-.7 -.7 0 -.7 .7 -1.4 0 -.7 .7 -1.4 0 -.7 .7 -2.1 0 -.7 .7 -1.4 0 -.7 .7 -2.1 0 -.7 .7 -2.8-.2 -6.7-3.3 -3.1-1.1 -2.1 .1 -11.2 2 -1.4 0 -.9-.3 .4-.7 2.8-2.1 20-12.6 3.4-2.8 1.2-1.4 .8-1.4 .3-2.1 -.7-14.7 .1-23.8 1.4-15.4 .8-2.1 4-7.4 3.5-7.9 2.6-12 1.2-7.7 .7-2.8 4.6-10.2 9.6-29 6.7-16.1 5-13.3 3.3-10.5 2.4-9.1 1.5-12.6 0-2.8 -.7-5.6 -1.2-3.5 -1.3-2.1 -1.5-1.4 -2.4-1.4 -3.2-1.4 -6.3-1.5 -6.3-.7 -25.9-.7 -11.2-.7 -4.9-1.1 -2.3-.2 -1.5-.7 -.6-.7 -.1-.7 .5-.7 .8-.7 3.2-1.2 6.3-3.2 5.6-.6 3.5-.9 15.4-1.8 5.6-1.4 2.1-1.3 1.4-1.5 .7-1.4 .8-2.8 .1-11.9 -1.1 0 -.5 .3 -2.1 .3 -1.4 .5 -9.1 1.9 -9.8 1.6 -7 .5 -.9-.2 -.7-.7 0-58.1zM592.6 110l4.1 0 0 15.4 .1 .7 1.4 .3 2.1 0 14.7-2.9 7-1.9 8.4-1.8 9.2-2.8 .4-.7 0-6.3 10 0 -.1 6.3 -2 .7 -13.3 2.5 -27.3 6.6 -7.7 1.5 -6.3-.1 -1.3-.7 0-16.8zM545 154.8l7-.1 11.9 .7 7 1.7 3.5 1.4 3.5 2.6 1.2 1.4 .6 1.4 .5 3.5 -.5 2.1 -1.1 2.8 -1.4 1.9 -2.1 1.6 -3.5 2.1 -3.5 1.2 -10.5 1.4 -11.2-1.2 -5.2-1.4 -12-4.9 -5.2-3.1 -4.6-3.2 -1.6-1.4 -1.3-2.1 -.1-1.4 .8-1.4 1.9-1.4 3.3-1.4 11.1-2.1 11-.7zM546 158.3l-6.6 .6 -3 .8 -3.1 2.1 -1.5 1.4 -.3 .7 1.9 4.2 1.6 2.1 2 1.4 6.6 3.5 3.5 1.1 7 .9 4.2 .1 4.9-.6 3.5-.9 2.8-1.3 2.9-2.1 1.5-2.1 .6-2.8 -.2-1.4 -.7-1.4 -2-2.4 -2.8-1.5 -3.5-1.3 -3.5-.7 -9.1-.6 -6.3 .2zM300.7 261.1l2.8-.2 6.5 .3 6.8 .7 8 1.4 4.1 1.4 3.5 2.1 2.7 2.1 2 2.2 2.9 4.1 1.3 2.4 .9 2.5 2.1 9.8 1.1 12.6 -.7 9.8 0 4.9 -1.6 8.4 -1.4 4.2 -1.3 2.8 -4.7 7 -2.6 2.8 -3 2.6 -4.9 3.1 -4.9 2.7 -12.6 5.9 -2.8 .5 -4.9 .3 0-42.6 4.2-.4 2.1-.5 2.1-1.3 1.7-1.8 1.1-2.3 1.4-5 .5-3.9 .3-4.2 -.4-7 -.3-2.1 -.9-2.1 -1.9-2.8 -1.5-1.3 -2.1-.9 -6.3-.7 0-17.4z" fill="#6ec5a5"/><path d="M410.6 110l2.6 0 0 56.7 3 .5 9.1-1.2 10.4-2.1 10.6-2.9 .8 .1 -1.3 4.2 -.7 5.6 .2 6.3 1.2 5.6 .1 2.1 -.7 1.4 -5 3.5 .2 .7 1.7 .1 1.4-.3 4.2-2.4 1.4-.1 2.1 .8 16.1 10.3 2.8 2.1 2.4 3.5 1.2 2.8 .6 2.1 1 10.5 -.8 8.4 -2.8 12.6 -3.1 19.6 -4.7 21.7 -3 18.2 -2 20.3 -.3 19.6 .7 19.6 1.5 11.2 1.1 18.2 1.6 6.3 2.2 5.6 .1 1.4 -.9 1.4 -2.6 2.1 -20.3 11.9 -3.2 2.1 -1.2 1.4 1.7 .4 2.8-.3 14-2.9 2.1 .3 2.7 1.1 4.3 2.7 .6 .1 .1 .7 2.8 0 .7-.7 1.4 0 .7-.7 1.4 0 .7-.7 .7 0 0 2.8 .7 .7 0 2.8 .7 .7 0 2.8 .7 .7 0 3.5 .7 .7 0 2.8 .7 .7 0 2.8 .7 .7 0 2.8 .7 .7 0 3.5 .7 .7 0 2.8 .7 .7 0 2.8 .7 .7 0 2.8 .7 .7 0 .7 -23.8 0 0-.7 -.7-.7 0-2.8 -.7-.7 0-3.5 -.7-.7 0-2.8 -.7-.7 0-3.5 -.7-.7 0-2.8 -.7-.7 0-3.5 -.7-.7 0-2.8 -.7-.7 0-3.5 -.7-.7 0-1.4 -2.1 0 -.7 .7 -1.4 0 -.7 .7 -3.5-.1 -.8-.6 -5.6-2.8 -3.4-.9 -2.1 .2 -15.4 3.3 -3 .2 -.6-.7 1.6-1.4 3.1-2.1 20.9-12.6 3.5-2.8 1.5-2.1 .1-2.1 -1.4-7 -1.3-9.1 -1.8-18.9 .3-4.9 2.7-25.9 3.7-20.3 5-18.9 4.7-20.3 4.5-15.4 8.4-33.6 .6-3.5 .7-9.8 -1.1-8.4 -1.3-4.2 -1.7-2.1 -2.4-2.1 -4.7-2.4 -5.6-2.2 -4.9-1.1 -14-.6 -4.2-1 -4.9 .8 -2.8-.3 -2.8-.9 -3.5 .7 -1.4 0 -1.4-.4 -1.1-1 0-1.4 .6-1.4 .6-.7 1.3-.8 1.4-.2 3.5 .3 2.8-1.1 2.8-.4 4.9 .5 2.8-1 4.3-.8 2.7-1.6 1.6-1.9 .9-2.8 .5-3.5 .2-7.7 1.2-5.6 -1.6-.1 -2.8 .9 -12 2.7 -11.8 1.9 -4.2 .1 -1.6-.6 0-57.4zM436 190.5l1.2 .3 1.7-.3 -2.4-.3zM586.3 110l5.7 0 0 16.8 1.3 .7 7 0 14.7-3.1 19.6-4.9 13.3-2.5 2-.7 .1-6.3 11.9 0 0 7.3 -11.9 .8 -15.4 2.2 -11.9 2.7 -14 3.6 -8.4 1.7 -4.9 .4 -7.7 .1 -1.6-.6 0-18.2zM535.9 152l14-.6 14.7 .4 5.1 .9 7.8 2.1 1.8 1.1 2.8 2.6 1.4 1.9 .5 1.4 .7 5.6 -.5 2.8 -1.4 4.2 -1.7 2.1 -4.6 3.3 -2.1 1.2 -2.8 .8 -13.3 1.7 -14-1.5 -6.4-1.3 -11.2-3.5 -4.8-1.8 -3.5-2.5 -6.6-5.5 -1.9-2.1 -1.1-2.1 -.5-2.1 .6-1.4 2-2.1 3.3-1.9 4.2-1.2 8.4-1.6 8.6-.9zM544.5 154.8l-11 .7 -11.1 2.1 -3.3 1.4 -1.9 1.4 -.8 1.4 .1 1.4 1.3 2.1 1.6 1.4 4.6 3.2 5.2 3.1 12 4.9 5.2 1.4 11.2 1.2 10.5-1.4 3.5-1.2 3.5-2.1 2.1-1.6 1.4-1.9 1.1-2.8 .5-2.1 -.5-3.5 -.6-1.4 -1.2-1.4 -3.5-2.6 -3.5-1.4 -7-1.7 -11.9-.7 -7 .1zM300.7 278.7l4.2 .3 2.1 .6 2.1 1.1 1.4 1.6 1.6 2.7 .7 2.1 .6 9.1 -.9 7.7 -1.3 4.7 -1.1 2.3 -1.7 1.8 -2.1 1.3 -2.1 .5 -4.2 .4 0-36.3z" fill="#a2d9a4"/><path d="M413.4 110l2.7 0 .1 56 3.5 0 6.6-.7 13.4-2.8 8-2.3 1.4 0 .3 .2 -1 2.8 -.8 3.5 -.3 5.6 .6 4.9 2.3 4.9 1.7 2.1 2.1 1.6 18.9 11.9 3.5 2.6 1.3 1.4 .7 1.4 1.4 4.9 1 5.6 .6 10.5 -.8 7.1 -2 10.4 -4.6 38.5 -.7 19.6 .6 16.8 2.1 23.1 2.6 19.6 3.4 11.5 2.3 18.6 1 2.8 2.1 4.2 .5 1.4 -.5 1.4 -1.7 1.4 -18.4 10.5 -3.2 2.1 -1.2 1.4 .9 .2 2.6-.2 11.4-2.3 2.1-.1 3.1 1 5 2.8 .3 .5 .7 .2 0 .3 1.4 .4 0 4.2 .7 .7 0 5.6 .7 1.4 0 4.2 .7 2.8 3.1 25.9 -12.9 0 0-.7 -.7-.7 0-2.8 -.7-.7 0-2.8 -.7-.7 0-2.8 -.7-.7 0-3.5 -.7-.7 0-2.8 -.7-.7 0-2.8 -.7-.7 0-2.8 -.7-.7 0-3.5 -.7-.7 0-2.8 -.7-.7 0-2.8 -.7-.7 0-2.8 -.7 0 -.7 .7 -1.4 0 -.7 .7 -1.4 0 -.7 .7 -2.8 0 -.1-.7 -.6-.1 -4.3-2.7 -2.7-1.1 -2.1-.3 -14 2.9 -2.8 .3 -1.7-.4 1.2-1.4 3.2-2.1 20.3-11.9 2.6-2.1 .9-1.4 -.1-1.4 -2.2-5.6 -1.6-6.3 -1.1-18.2 -1.5-11.2 -.7-19.6 .3-19.6 2.3-22.4 3.1-18.2 4.3-19.6 3.1-19.6 2.6-11.2 1-7.7 -.1-4.2 -.8-7.7 -.7-2.8 -2-4.2 -2.4-2.8 -17.4-11.3 -2.1-1 -2.1-.1 -4.2 2.4 -1.4 .3 -1.7-.1 -.2-.7 5-3.5 .7-1.4 -.1-2.1 -1.2-5.6 -.2-6.3 .7-5.6 1.3-4.2 -.8-.1 -10.6 2.9 -10.4 2.1 -9.1 1.2 -3-.5 0-56.7zM580.7 110l5.4 0 0 18.2 1.6 .6 7.7-.1 4.9-.4 8.4-1.7 14-3.6 11.9-2.7 15.4-2.2 11.9-.8 .1-7.3 -.1 8.4 -14.7 1 -12.6 1.6 -11.2 2.5 -14.7 3.7 -9.1 1.9 -11.9 .9 -5.6 .1 -1.4-.5 0-19.6zM540.1 148.5l10.5-.4 16.1 .4 2.8 .3 7 1.7 4.2 1.4 1.9 1.5 3.2 3.5 .9 1.4 .6 2.1 .8 4.9 0 2.8 -1.5 6.3 -.8 2.1 -1.6 1.8 -4.8 3.8 -2.2 1.4 -1.4 .5 -15.4 2.3 -5.6-.2 -16.8-1.9 -18.2-4.9 -2.1-1 -2.6-1.8 -7.2-6.2 -1.8-2.2 -2.4-6.3 -.2-1.4 .1-1.4 1.5-2.2 4.2-3.3 4.2-1.5 12.6-2.5 3.5-.5 10.4-.5zM535.4 152l-8.6 .9 -8.4 1.6 -4.2 1.2 -3.3 1.9 -2 2.1 -.6 1.4 .5 2.1 1.1 2.1 1.9 2.1 6.6 5.5 3.5 2.5 4.8 1.8 11.2 3.5 6.4 1.3 14 1.5 13.3-1.7 2.8-.8 2.1-1.2 4.6-3.3 1.7-2.1 1.4-4.2 .5-2.8 -.7-5.6 -.5-1.4 -1.4-1.9 -2.8-2.6 -1.8-1.1 -7.8-2.1 -5.1-.9 -14.7-.4 -14 .6zM436.5 190.2l2.4 .3 -1.7 .3 -1.2-.3z" fill="#cdeb9d"/><path d="M416.2 110l5.8 0 .1 54.6 3.2 .1 8.8-1.5 5.9-1.3 11.2-3.1 1.2 .2 -1.9 5.6 -.6 6.3 .9 5.6 1 2.1 1.4 2.1 2.2 2.5 2.3 1.7 15.9 8.9 6.3 4 2.9 2.5 .9 1.4 .6 1.4 1.5 7.7 .6 9.1 -.8 9.8 -1.9 12.6 -2.4 37.1 .4 20.3 1.3 16.1 .6 6.3 2.9 18.2 6.5 30.1 2.1 18.2 1.6 4.2 3.4 4.9 -.1 .7 -1.1 1.4 -9.2 5.6 -1.7 1.4 .2 .7 .8 0 5.6-.6 2.1 .2 3.4 1.8 2.8 2.1 .8 .7 0 .5 .6 .2 .1 4.9 .7 1.4 0 4.2 .7 .7 0 4.9 .7 .7 0 4.9 .7 .7 0 4.9 .7 .7 0 4.9 .7 .7 0 4.9 .7 .7 0 5.6 .7 .7 0 4.2 -14.4 0 -3.1-25.9 -.7-2.8 0-4.2 -.7-1.4 0-5.6 -.7-.7 0-4.2 -1.4-.4 0-.3 -.7-.2 -.3-.5 -5-2.8 -3.1-1 -2.1 .1 -11.4 2.3 -2.6 .2 -.9-.2 1.2-1.4 3.2-2.1 18.4-10.5 1.7-1.4 .5-1.4 -.5-1.4 -2.1-4.2 -1-2.8 -2.3-18.6 -3.4-11.5 -2.6-19.6 -2-21.7 -.7-18.2 .7-19.6 4.6-38.5 2-10.4 .8-7.1 -.1-4.2 -.7-7.7 -1.3-6.3 -1.2-3.5 -1-1.4 -1.5-1.4 -20.9-13.3 -2.8-2.1 -1.4-1.6 -1.4-2.6 -1.2-2.8 -.6-4.9 .3-5.6 .8-3.5 1-2.8 -.3-.2 -1.4 0 -8 2.3 -13.4 2.8 -6.6 .7 -3.5 0 -.1-56zM514.2 110l36.4 0 0 7 .7 .7 0 .7 .7 .7 0 .7 .7 .7 0 .7 1.4 1.4 0 .7 .7 .7 0 .7 1.4 1.4 0 .7 -2.8 0 -.7 .7 -2.8 0 -.7 .7 -2.8 0 -.7 .7 -3.5 0 -.7 .7 -2.8 0 -.7 .7 -2.8 0 -.7 .7 -2.8 0 -.7 .7 -2.8 0 -.7 .7 -3.5 0 -.7 .7 -2.8 0 -.7 .7 -2.8 0 -.7 .7 -2.8 0 0-2.1 .7-.7 0-21.7zM576.5 110l4.2 0 0 19.6 1.4 .5 11.7-.5 6.5-.6 14.7-3.3 9.8-2.6 9.8-2.1 5.6-.8 9.8-1 11.9-.6 .2-8.6 -.1 9.1 -.1 .4 -14 .7 -13.3 1.4 -11.2 2.5 -13.4 3.4 -10.4 2.2 -15.4 1.4 -6.3-.2 -1.6-.6 0-20.3zM545 144.3l8.4-.4 16.1 .3 2.8 .5 7.7 2.2 2.1 .8 1.4 .8 2.1 2.1 3.5 4.2 1 2.1 .5 2.1 .8 6.3 .1 2.8 -1.8 7.7 -1.3 3 -1.9 1.9 -5.4 4.2 -1.8 1.1 -1.4 .5 -18.2 2.5 -8.4-.6 -17.5-2 -17.8-5 -2.7-1.4 -2.6-2 -6-5.7 -1.7-2.1 -.8-2.1 -.8-4.2 -.6-3.5 0-2.1 .3-1.4 1.2-2.3 1.4-2 1.4-1.3 2.1-1 2.8-.8 15.4-3.3 7.7-.9 11.7-1zM540 148.5l-10.4 .5 -3.5 .5 -12.6 2.5 -4.2 1.5 -4.2 3.3 -1.5 2.2 -.1 1.4 .2 1.4 2.4 6.3 1.8 2.2 7.2 6.2 2.6 1.8 2.1 1 18.2 4.9 16.8 1.9 5.6 .2 15.4-2.3 1.4-.5 2.2-1.4 4.8-3.8 1.6-1.8 .8-2.1 1.5-6.3 0-2.8 -.8-4.9 -.6-2.1 -.9-1.4 -3.2-3.5 -1.9-1.5 -4.2-1.4 -7-1.7 -2.8-.3 -16.1-.4 -10.5 .4z" fill="#edf8a3"/><path d="M422.5 110l8.7 0 .1 52.5 1.3 0 7.4-1.3 11.2-3.2 2.8-.7 2.1-.1 .2 .4 -1.9 6.3 -.7 5.6 .8 4.9 .9 2.1 .9 1.4 2.6 3 2.8 2.2 14 7.3 6.1 3.6 5.8 4.7 1.2 1.6 .6 1.4 1 7.7 0 9.1 -.9 10.5 -1.6 12.6 -.6 18.9 .1 18.2 1.5 21 2.3 19.6 4.4 21 6.4 22.4 1.6 7.7 2.8 17.5 .9 2.1 1.4 2.1 2 1.9 2.8 1.9 .6 1.1 -.9 1.4 -2.8 2.1 -.6 .7 -.1 .7 3.1 2.6 3.7 2.3 .7 1.4 2.5 14.7 .2 2.8 .5 2.1 .2 2.8 .5 1.4 .2 3.5 .5 1.4 .1 2.8 .7 2.1 0 3.5 .7 1.4 0 3.5 .7 .7 0 3.5 .7 .7 0 2.8 .7 .7 0 3.5 -15.4 0 0-4.2 -.7-.7 0-5.6 -.7-.7 0-4.9 -.7-.7 0-4.9 -.7-.7 0-4.9 -.7-.7 0-4.9 -.7-.7 0-4.9 -.7-.7 0-4.2 -.7-1.4 -.1-4.9 -.6-.2 0-.5 -.8-.7 -2.8-2.1 -3.4-1.8 -2.1-.2 -5.6 .6 -.8 0 -.2-.7 1.7-1.4 9.2-5.6 1.1-1.4 .1-.7 -3.4-4.9 -1.6-4.2 -2.1-18.2 -6.5-30.1 -2.9-18.2 -.6-6.3 -1.3-16.1 -.4-20.3 2.4-37.1 1.9-12.6 .8-9.8 -.6-9.1 -1.5-7.7 -.6-1.4 -.9-1.4 -2.9-2.5 -6.3-4 -15.9-8.9 -2.3-1.7 -2.2-2.5 -1.4-2.1 -1-2.1 -.9-5.6 .6-6.3 1.9-5.6 -1.2-.2 -11.2 3.1 -5.9 1.3 -8.8 1.5 -3.2-.1 -.1-54.6zM493.9 110l20.3 0 0 21.7 -.7 .7 0 2.1 2.8 0 .7-.7 2.8 0 .7-.7 2.8 0 .7-.7 3.5 0 .7-.7 2.8 0 .7-.7 2.8 0 .7-.7 2.8 0 .7-.7 2.8 0 .7-.7 3.5 0 .7-.7 2.8 0 .7-.7 2.8 0 .7-.7 2.8 0 0-.7 -1.4-1.4 0-.7 -.7-.7 0-.7 -1.4-1.4 0-.7 -.7-.7 0-.7 -.7-.7 0-.7 -.7-.7 0-7 25.7 0 0 20.3 .9 .5 2.2 .2 2.7 .2 3.5-.2 14.5-1.4 9.9-2.1 13.4-3.4 11.2-2.5 13.3-1.4 14-.7 .2-9.5 .1 7.7 -.3 2.6 -14.7 .6 -12.6 1.3 -34.3 7.9 -14 1.6 -2.8 .6 -2.8 0 -1.4-.7 -4.2-.1 -.5-.5 -.2-7 -.7 .8 -1.9 5.5 -2.1 2.8 .5 .6 2.1 .1 10.5-1.3 1.4 .4 1 .9 1.6 4.2 4.4 9.3 3 8.2 1.2 11.2 -.7 5.8 -1.9 6.1 -1.5 2.8 -3.6 3.2 -5.6 4 -2.1 .8 -2.8 .5 -15.4 1.9 -3.5 .2 -23.8-2.6 -4.2-.7 -4.9-1.4 -10.5-3.5 -4.9-2.3 -2.8-2.2 -4.9-5.5 -1.4-2.1 -.6-1.5 -1.5-9.1 -.2-3.5 .3-7 .5-1.4 .8-.6 2.1-.9 6.3-1.5 22.6-4.7 4-1 13.2-2.5 2.5-.7 .1-.7 -1.8 0 -15.4 3.1 -4.6 .4 -21.3 3.9 -2.1 0 -1.5-.4 -2.9-2.1 -1.7-2.1 -.2-10.5 -.7-.7 0-1.4 -.7-.7 0-1.4 -.7-.7 0-1.4 -.7-.7 0-1.4 -.7-.7 0-1.4 -.7-.7 0-1.4 -.7-.7 0-1.4 -.7-.7 0-3.5zM562.2 134.5l1 .3 1.6-.3 -2.3 0zM559 135.2l2.9 0 -.8-.2 -2.1 .2zM556 135.9l1.6 0 -1.4 0zM544.8 144.3l-11.7 1 -7.7 .9 -15.4 3.3 -2.8 .8 -2.1 1 -1.4 1.3 -1.4 2 -1.2 2.3 -.3 1.4 0 2.1 .6 3.5 .8 4.2 .8 2.1 1.7 2.1 6 5.7 2.6 2 2.7 1.4 17.8 5 17.5 2 8.4 .6 18.2-2.5 1.4-.5 1.8-1.1 5.4-4.2 1.9-1.9 1.3-3 1.8-7.7 -.1-2.8 -.8-6.3 -.5-2.1 -1-2.1 -3.5-4.2 -2.1-2.1 -1.4-.8 -2.1-.8 -7.7-2.2 -2.8-.5 -16.1-.3 -8.4 .4z" fill="#fffebe"/><path d="M431.6 110l23.1 0 0 45.5 1.9 0 3-.6 .7-.4 1.6 .3 -1.2 3.5 -.2 6.3 .5 5.6 1.6 4.2 1.1 2.1 1.8 2.1 2.5 2.3 2.8 1.9 17.5 8.8 4.2 .9 .7 .5 1 8.7 .3 8.4 -.5 10.5 -2.1 19.6 .1 21 1.2 20.3 2.3 18.9 2.8 19.6 5.7 19.6 8.5 21.7 2.4 8.4 3.4 14.7 .9 2.8 1.2 2.1 2.2 2.1 2.1 1.3 3.7 1.5 .5 .7 .1 .7 -.5 3.5 1.1 3 .7 .9 .7 .2 2.9 .1 0 .7 .6 .7 0 2.1 .7 .7 0 2.1 .7 .7 0 2.1 .7 .7 0 2.1 .7 .7 0 2.1 .7 .7 0 2.1 .7 .7 0 2.1 .7 .7 0 2.1 .7 .7 0 2.8 .7 .7 0 2.1 .7 .7 0 2.1 .7 .7 0 2.1 .7 .7 0 2.1 .7 .7 0 2.1 .7 .7 0 2.1 .7 .7 0 2.1 .7 .7 0 2.1 .7 .7 0 2.1 .7 .7 0 2.1 .7 .7 0 2.1 .7 .7 0 .7 -23.1 0 0-3.5 -.7-.7 0-2.8 -.7-.7 0-3.5 -.7-.7 0-3.5 -.7-1.4 0-3.5 -.7-2.1 -.1-2.8 -.5-1.4 -.2-3.5 -.5-1.4 -.2-2.8 -.5-2.1 -.2-2.8 -2.5-14.7 -.7-1.4 -3.7-2.3 -3.1-2.6 .1-.7 .6-.7 2.8-2.1 .9-1.4 -.6-1.1 -4.2-3.1 -1.6-2.1 -1-2.1 -3.2-18.9 -1.7-7.7 -6.6-23.1 -4.1-20.3 -2.2-18.9 -1.4-19.6 -.2-19.6 .6-18.9 1.6-12.6 .9-10.5 0-9.1 -1-7.7 -.6-1.4 -1.2-1.6 -5.8-4.7 -6.1-3.6 -14-7.3 -2.8-2.2 -2.6-3 -.9-1.4 -.9-2.1 -.8-4.9 .7-5.6 1.9-6.3 -.2-.4 -2.1 .1 -2.8 .7 -11.2 3.2 -7.4 1.3 -1.3 0 -.1-52.5zM487.6 110l6.3 0 0 3.5 .7 .7 0 1.4 .7 .7 0 1.4 .7 .7 0 1.4 .7 .7 0 1.4 .7 .7 0 1.4 .7 .7 0 1.4 .7 .7 0 1.4 .7 .7 .2 10.5 1.7 2.1 3 2.1 1.4 .4 2.1 0 21.3-3.9 4.6-.4 15.4-3.1 1.8 0 -.1 .7 -2.5 .7 -13.2 2.5 -4 1 -22.6 4.7 -6.3 1.5 -2 .8 -.9 .7 -.5 1.4 -.3 7.7 .4 4.9 1.2 6.5 1.4 3.2 2.8 3.4 3.5 3.6 3.5 2.4 5.6 2.2 9.1 3 4.9 1.3 9.1 1.3 18.2 1.9 3.5-.2 15.4-1.9 2.8-.5 2.1-.8 5.6-4 3.6-3.2 1.5-2.8 1.9-6.1 .7-5.8 -1.2-11.2 -3-8.2 -4.4-9.3 -1.6-4.2 -1-.9 -1.4-.4 -10.5 1.3 -2.1-.1 -.5-.6 2.1-2.8 1.9-5.5 .7-.8 .2 7 .5 .5 4.2 .1 1.4 .7 2.8 0 2.8-.6 14-1.6 34.3-7.9 12.6-1.3 14.7-.6 .4-10.3 0 8.4 -.4 2.7 -14.7 .5 -12.6 1.2 -10.5 2.2 -15.4 3.8 -14.4 2.9 -.2 3.5 .5 3.5 1.1 5.6 2.7 11.2 .9 11.2 -.5 5.6 -1 4.9 -1.1 2.8 -2 3.5 -2 2.8 -1.6 1.4 -6.6 3.5 -4.5 1.8 -18.9 2.9 -7.7 .1 -9.8-1 -17.5-2.8 -16.8-5.8 -7-1.5 -.5-.7 -.9-5.6 -2.7-7 -1.1-7 -.9-9.8 -.7-3.5 -1-2.8 -.3-2.1 -2.5-2.8 -.5-1.4 -3.7-21.7 -.5-10.5zM562.5 134.5l2.3 0 -1.6 .3 -1-.3zM559 135.2l2.1-.2 .8 .2 -2.9 0zM556.2 135.9l1.4 0 -1.6 0z" fill="#fee999"/><path d="M455.4 110l31.6 0 .5 10.5 3.7 21.7 .5 1.4 2.5 2.8 .3 2.1 1 2.8 .7 3.5 .9 9.8 1.1 7 2.7 7 .9 5.6 .5 .7 7 1.5 14 5 3.5 .9 18.2 2.9 8.4 .8 4.9 .1 3.5-.2 13.1-1.9 4.2-.7 2.3-.7 7.2-3.5 3.3-2 1.4-1.5 2.7-4.2 1.4-2.8 .8-2.8 .9-5.6 .2-4.2 -1-11.2 -2.6-10.5 -1.3-7 -.3-2.8 .2-2.8 14.4-2.9 15.4-3.8 10.5-2.2 12.6-1.2 14.7-.5 .4-2.7 .1-8.4 -.1 9.1 -.4 2.6 -14.7 .5 -12.6 1.1 -8.4 1.7 -13.3 3.4 -8.9 1.9 -.9 .6 -.8 .1 -1.2 4.9 -.1 6.3 .1 3.5 1.4 9.8 .5 8.4 .1 4.2 -.4 5.6 -1.1 4.2 -2 4.9 -3 4.2 -2.6 2.4 -4.2 2.1 -9.8 3.8 -21.7 4.3 -4.9 1.3 -14 .1 -25.9-1.5 -3.5 .3 -3.5 1.4 -2.1 1.3 -1.5 1.3 -1.5 2.8 -2 5.6 -1.8 12.6 -1.2 14.7 .6 21.7 1.4 18.9 2.5 18.1 4.9 21.8 8 19.6 9.6 19.6 3.4 8.4 1.5 2.8 2.7 3.5 13.3 15.3 2.1 1.4 5.6 2.2 2 1.4 .3 .7 -.2 3.2 -.7 .3 .7 .7 0 1.4 .7 .7 0 1.4 .7 .7 0 .7 .7 .7 0 1.4 .7 .7 0 1.4 .7 .7 0 .7 .7 .7 0 1.4 .7 .7 0 1.4 .7 .7 0 .7 .7 .7 0 1.4 .7 .7 0 1.4 .7 .7 0 .7 .7 .7 0 1.4 .7 .7 0 1.4 .7 .7 0 .7 .7 .7 0 1.4 .7 .7 0 1.4 .7 .7 0 .7 .7 .7 0 1.4 .7 .7 0 1.4 .7 .7 0 .7 .7 .7 0 1.4 .7 .7 0 .7 .7 .7 0 1.4 .7 .7 0 1.4 .7 .7 0 .7 .7 .7 0 1.4 .7 .7 0 1.4 .7 .7 0 .7 .7 .7 0 1.4 .7 .7 0 1.4 .7 .7 0 .7 .7 .7 0 1.4 .7 .7 0 1.4 -28.7 0 0-.7 -.7-.7 0-2.1 -.7-.7 0-2.1 -.7-.7 0-2.1 -.7-.7 0-2.1 -.7-.7 0-2.1 -.7-.7 0-2.1 -.7-.7 0-2.1 -.7-.7 0-2.1 -.7-.7 0-2.1 -.7-.7 0-2.1 -.7-.7 0-2.1 -.7-.7 0-2.8 -.7-.7 0-2.1 -.7-.7 0-2.1 -.7-.7 0-2.1 -.7-.7 0-2.1 -.7-.7 0-2.1 -.7-.7 0-2.1 -.7-.7 0-2.1 -.7-.7 0-2.1 -.6-.7 0-.7 -3.6-.3 -1.4-2.4 -.4-1.5 .4-4.2 -.7-.8 -4.2-1.8 -2.2-1.6 -1.9-2.1 -1.2-2.8 -3.8-16.1 -2.4-8.4 -8.2-21 -5.4-18.2 -.9-4.2 -2.5-17.5 -2.5-20.3 -1.1-21 0-18.9 2.1-19.6 .5-10.5 -.2-7.7 -1-9.1 -.6-.7 -3-.5 -2.1-.8 -17.5-8.9 -3.1-2.4 -2.2-2.1 -2.2-3.5 -1.6-4.2 -.5-5.6 .2-6.3 1.2-3.5 -1.6-.3 -.7 .4 -3 .6 -1.9 0 0-45.5zM472.9 142.9l3.5 0 .6 .7 -.2 .7 -.7 2.8 -1.2 2.1 -1.5 1.4 -5.8 4.2 -1.5 2.1 -.4 2.8 -.1 4.2 .5 4.9 .8 2.8 1.8 3.5 1.4 1.8 2.1 1.6 2.8 1.5 3.5 1 2.8 .3 3.5-.3 2.8-.7 2.1-1.4 2.5-2.4 .8-1.4 1.1-3.5 .4-2.8 0-6.3 -.6-4.9 -.6-2.1 -1.3-2.1 -1.5-1.4 -5.3-2.1 -2.2-1.4 -1.3-1.4 -1.8-3.3 -.5-.2 -.2-.5 -1-.2 -.4-.6 -4.2-.1z" fill="#feca79"/><path d="M662.5 110.7l-.1 9.1 -.1 1.4 -.4 1.1 -14.7 .4 -13.3 1.2 -9.8 2.1 -1.4 .6 -1.7 .2 -1.1 .6 -1.5 .1 -.6 .4 -1.7 .3 -3.8 2.1 -2.2 1.9 -1.9 3 -1 2.1 -1 6.3 -.1 3.5 .9 19.6 -.5 6.3 -.6 3.5 -2.6 5.6 -2.1 3.5 -4.3 4.2 -2.9 2.3 -6.3 3.5 -2.2 .5 -3.2 1.4 -.3 .7 .9 .7 -7.8 2.1 -2.8-.7 -2.1 0 -13.3 2.7 -16.1 1.1 -24.5-.6 -4.2 .3 -2.8 1.2 -2.1 1.7 -2.1 3.4 -1.4 3.5 -1.9 11.9 -1 14.7 .8 19.6 1.5 17.5 .6 4.5 4.1 17.2 5.8 21 4.8 10.1 11.9 20.1 2 2.7 4.3 4.8 1.7 1.5 1.8 1.2 7.7 3.4 10.5 5.9 2.7 2.1 9.2 9.1 5.6 2.8 1.8 1.4 .3 1.5 -.7 3.2 -.7 1.6 0 2.1 .7 .7 0 .7 .7 .7 0 1.4 .7 .7 0 1.4 .7 .7 0 1.4 .7 .7 0 1.4 .7 .7 0 1.4 .7 .7 0 1.4 .7 .7 0 1.4 .7 .7 0 1.4 .7 .7 0 1.4 .7 .7 0 1.4 .7 .7 0 1.4 .7 .7 0 1.4 .7 .7 0 1.4 .7 .7 0 1.4 .7 .7 0 1.4 .7 .7 0 1.4 .7 .7 0 1.4 .7 .7 0 1.4 .7 .7 0 1.4 .7 .7 0 1.4 .7 .7 0 1.4 .7 .7 0 1.4 .7 .7 0 1.4 .7 .7 0 1.4 .7 .7 0 1.4 .7 .7 0 1.4 .7 .7 0 1.4 .7 .7 0 1.4 .7 .7 0 1.4 .7 .7 0 1.4 .7 .7 0 1.4 .7 .7 0 .7 .7 .7 -23.1 0 0-1.4 -.7-.7 0-1.4 -.7-.7 0-.7 -.7-.7 0-1.4 -.7-.7 0-1.4 -.7-.7 0-.7 -.7-.7 0-1.4 -.7-.7 0-1.4 -.7-.7 0-.7 -.7-.7 0-1.4 -.7-.7 0-1.4 -.7-.7 0-.7 -.7-.7 0-1.4 -.7-.7 0-.7 -.7-.7 0-1.4 -.7-.7 0-1.4 -.7-.7 0-.7 -.7-.7 0-1.4 -.7-.7 0-1.4 -.7-.7 0-.7 -.7-.7 0-1.4 -.7-.7 0-1.4 -.7-.7 0-.7 -.7-.7 0-1.4 -.7-.7 0-1.4 -.7-.7 0-.7 -.7-.7 0-1.4 -.7-.7 0-1.4 -.7-.7 0-.7 -.7-.7 0-1.4 -.7-.7 0-1.4 -.7-.7 0-.7 -.7-.7 0-1.4 -.7-.7 0-1.4 -.7-.7 .7-.3 .2-3.2 -.3-.7 -2-1.4 -5.6-2.2 -2.1-1.4 -13.3-15.3 -2.7-3.5 -1.5-2.8 -3.4-8.4 -9.6-19.6 -8-19.6 -4.9-21.8 -2.5-18.1 -1.4-18.9 -.6-21.7 1.2-14.7 1.8-12.6 2-5.6 1.5-2.8 1.5-1.3 2.1-1.3 3.5-1.4 3.5-.3 25.9 1.5 14-.1 4.9-1.3 21.7-4.3 9.8-3.8 4.2-2.1 2.6-2.4 3-4.2 2-4.9 1.1-4.2 .4-5.6 -.1-4.2 -.5-8.4 -1.4-9.8 -.1-3.5 .1-6.3 1.2-4.9 .8-.1 .9-.6 8.9-1.9 13.3-3.4 8.4-1.7 12.6-1.1 14.7-.5 .4-2.6 .2-9.1zM473.6 142.2l4.2 .1 .4 .6 1 .2 .2 .5 .5 .2 1.8 3.3 1.3 1.4 2.2 1.4 5.3 2.1 1.5 1.4 1.3 2.1 .6 2.1 .6 4.9 0 6.3 -.4 2.8 -1.1 3.5 -.8 1.4 -2.5 2.4 -2.1 1.4 -2.8 .7 -3.5 .3 -2.8-.3 -3.5-1 -2.8-1.5 -2.1-1.6 -1.4-1.8 -1.8-3.5 -.8-2.8 -.5-4.9 .1-4.2 .4-2.8 1.5-2.1 5.8-4.2 1.5-1.4 1.2-2.1 .7-2.8 .2-.7 -.6-.7 -3.5 0zM479.6 154.1l-3.2 .6 -2.1 .7 -3.1 2.2 -.9 1.4 -.5 1.4 -.4 2.1 -.1 2.1 .8 4.9 1.4 2.8 1.4 2 1.4 1.3 1.8 .9 2.4 .8 2.1 .2 2.1-.4 2.8-1 1.4-1 1.3-1.4 1.3-2.1 1-2.1 .4-2.1 .2-3.5 -.7-4.4 -.7-1.5 -1-1.1 -1.8-1.3 -1.9-.8 -3-.6 -2.1-.1z" fill="#fcab60"/><path d="M662.6 110l5.6 0 0 5.6 -5.6 0 -.1 6.3 -.2 .7 -.4 .4 -15.4 .3 -8.4 1.8 -9.8 3 -7.6 2.9 -2.2 1.5 -3.3 3.4 -2.1 3.5 -1.2 3.5 -.7 2.8 -.5 9.1 .3 12.6 -1.2 8.4 -.7 2.8 -3.6 6.3 -2.1 2.8 -7.3 5.8 -4.1 2.6 -2.9 3.3 -4.2 1.9 -10.5 2.5 -2.1 .1 -4.2-.7 -9.8 2.3 -14.7 1.7 -18.9 .6 -4.2 .4 -2.8 .7 -2.1 1 -1.4 1 -1.4 1.5 -1.2 1.9 -2.1 4.9 -2 8.4 -1.2 10.5 -.1 5.6 .8 16.8 2.6 18.2 1.1 4.7 4.9 16.7 6.3 15.2 2.1 4.2 2.6 3.3 17.7 19.6 7.9 7.7 10.3 8.7 3 1.8 11 5.3 11.3 7.3 2.7 .8 10.5 1.2 2 .8 .6 .7 .4 1.4 -.2 3 -.7 2.5 -.5 .1 -.2 .7 .7 .7 0 .7 .7 .7 0 .7 .7 .7 0 .7 .7 .7 0 .7 .7 .7 0 .7 .7 .7 0 1.4 .7 .7 0 1.4 .7 .7 0 1.4 .7 .7 0 1.4 .7 .7 0 2.1 .7 .7 0 2.1 .7 .7 0 2.8 .7 .7 0 2.8 .7 .7 0 2.8 .7 .7 0 2.8 .7 .7 0 3.5 .7 .7 0 2.8 .7 .7 0 2.8 .7 .7 0 2.8 .7 .7 0 3.5 .7 .7 0 2.8 .7 .7 0 2.8 .7 .7 0 2.8 .7 .7 0 2.8 .7 .7 0 3.5 .7 .7 0 2.8 .7 .7 0 1.4 -21 0 -.7-.7 0-.7 -.7-.7 0-1.4 -.7-.7 0-1.4 -.7-.7 0-1.4 -.7-.7 0-1.4 -.7-.7 0-1.4 -.7-.7 0-1.4 -.7-.7 0-1.4 -.7-.7 0-1.4 -.7-.7 0-1.4 -.7-.7 0-1.4 -.7-.7 0-1.4 -.7-.7 0-1.4 -.7-.7 0-1.4 -.7-.7 0-1.4 -.7-.7 0-1.4 -.7-.7 0-1.4 -.7-.7 0-1.4 -.7-.7 0-1.4 -.7-.7 0-1.4 -.7-.7 0-1.4 -.7-.7 0-1.4 -.7-.7 0-1.4 -.7-.7 0-1.4 -.7-.7 0-1.4 -.7-.7 0-1.4 -.7-.7 0-1.4 -.7-.7 0-1.4 -.7-.7 0-1.4 -.7-.7 0-1.4 -.7-.7 0-1.4 -.7-.7 0-1.4 -.7-.7 0-.7 -.7-.7 0-2.1 .7-1.6 .7-3.2 -.3-1.5 -1.8-1.4 -5.6-2.8 -9.2-9.1 -2.7-2.1 -10.5-5.9 -7.7-3.4 -1.8-1.2 -1.7-1.5 -4.3-4.8 -2-2.7 -11.9-20.1 -4.5-9.4 -6-21 -4.1-17.5 -.7-4.2 -1.5-18.2 -.8-19.6 1-14.7 1.5-9.8 1.1-4.1 2.3-4.3 2.3-2.1 3.1-1.4 4.2-.3 24.5 .6 16.1-1.1 13.3-2.7 2.1 0 2.8 .7 7.8-2.1 -.9-.7 .3-.7 3.2-1.4 2.2-.5 6.3-3.5 2.9-2.3 4.3-4.2 2.1-3.5 2.6-5.6 .6-3.5 .5-6.3 -.9-19.6 .1-3.5 1-6.3 1-2.1 1.9-3 2.2-1.9 3.8-2.1 1.7-.3 .6-.4 1.5-.1 1.1-.6 1.7-.2 1.4-.6 9.8-2.1 13.3-1.2 14.7-.4 .4-1.1 .1-1.4 .1-9.8zM479.9 154.1l2.1 .1 3 .6 1.9 .8 1.8 1.3 1 1.1 .7 1.5 .7 4.4 -.2 3.5 -.4 2.1 -1 2.1 -1.3 2.1 -1.3 1.4 -1.4 1 -2.8 1 -2.1 .4 -2.1-.2 -2.4-.8 -1.8-.9 -1.4-1.3 -1.4-2 -1.4-2.8 -.8-4.9 .1-2.1 .4-2.1 .5-1.4 .9-1.4 3.1-2.2 2.1-.7 3.2-.6zM479.8 161.1l-2 .9 -1.2 1.2 -1 2.1 -.1 2.1 .7 2.1 1.6 1.9 2.1 1 2.1 .1 2.1-.9 1.5-1.4 1.1-2.1 .1-2.1 -.8-2.1 -1.9-2 -2.1-.9 -2.1 .1z" fill="#f8864f"/><path d="M662.6 115.6l5.6 0 0 14.6 -3.9-2.7 -2.4-.8 -5.6-.1 -11.2 .9 -10.5 2 -3.5 1 -2.5 1.2 -4.6 2.8 -2.7 2.6 -2.6 4.4 -1.6 4.2 -1.1 9.1 -.2 11.9 -2.9 13.3 -1.1 2.8 -2 3.5 -2.9 4.2 -2.1 2.1 -6.6 4.4 -7 4.2 -3.5 1.5 -4.2 1.3 -9.8 2.8 -4.9 .9 -10.5 3 -15.4 2.5 -7.6 .4 -3.6 .5 -2.8 .5 -2.1 .8 -4.3 3.1 -2.8 3.5 -2.3 4.9 -1.2 4.2 -.6 3.5 -.6 7 1.3 15.2 1.4 10.5 2.1 9.4 1 3.4 3.9 7.7 7 12.9 13.3 18.9 9.8 12.3 2.4 2.1 4 2.8 5.5 3.3 14.7 5.4 47.6 19.6 2.8 1.8 1.7 2.1 1.8 3.2 1.3 .3 .1 .4 3.5 .3 .7-.7 .7 0 .7-.7 .7 0 1.4-1.4 0 .7 2.1 2.1 0 .7 1.4 1.4 0 .7 1.4 1.4 0 .7 .7 .7 0 .7 1.4 1.4 0 .7 .7 .7 0 .7 1.4 1.4 0 .7 .7 .7 0 .7 1.4 1.4 0 .7 .7 .7 0 .7 1.4 1.4 0 .7 .7 .7 0 .7 1.4 1.4 0 .7 1.4 1.4 0 .7 .7 .7 6.3 0 0 63.7 -46.9 0 0-1.4 -.7-.7 0-2.8 -.7-.7 0-3.5 -.7-.7 0-2.8 -.7-.7 0-2.8 -.7-.7 0-2.8 -.7-.7 0-2.8 -.7-.7 0-3.5 -.7-.7 0-2.8 -.7-.7 0-2.8 -.7-.7 0-2.8 -.7-.7 0-3.5 -.7-.7 0-2.8 -.7-.7 0-2.8 -.7-.7 0-2.8 -.7-.7 0-2.8 -.7-.7 0-2.1 -.7-.7 0-2.1 -.7-.7 0-1.4 -.7-.7 0-1.4 -.7-.7 0-1.4 -.7-.7 0-1.4 -.7-.7 0-.7 -.7-.7 0-.7 -.7-.7 0-.7 -.7-.7 0-.7 -.7-.7 0-.7 -.7-.7 .2-.7 .5-.1 .7-2.5 .2-3 -.4-1.4 -.6-.7 -2-.8 -10.5-1.2 -2.7-.8 -11.3-7.3 -11-5.3 -3-1.8 -10.3-8.7 -8.6-8.4 -17.6-19.6 -2.9-4.2 -7.5-17.8 -4.9-16.7 -1.1-4.7 -2.4-16.8 -.4-4.2 -.7-16.8 1-10.5 .7-4.2 1.3-5.6 1.8-4.9 1.2-2.2 1.5-2 1.6-1.4 2.5-1.2 2.8-.7 4.2-.4 18.9-.6 14.7-1.7 9.8-2.3 4.2 .7 2.1-.1 10.5-2.5 4.2-1.9 2.9-3.3 4.1-2.6 7.3-5.8 2.1-2.8 3.6-6.3 .7-2.8 1.2-8.4 -.3-12.6 .5-9.1 .7-2.8 1.5-4.2 2.3-3.4 2.9-2.9 2.7-1.7 7-2.6 9.8-3 8.4-1.8 15.4-.3 .4-.4 .2-.7 .1-5.6zM479.9 161.1l2.1-.1 2.1 .9 1.9 2 .8 2.1 -.1 2.1 -1.1 2.1 -1.5 1.4 -2.1 .9 -2.1-.1 -2.1-1 -1.6-1.9 -.7-2.1 .1-2.1 1-2.1 1.2-1.2 2-.9z" fill="#ee5c48"/><path d="M654.2 126.8l4.2-.2 3.9 .2 2 .7 3.9 2.7 0 28 -.7-.3 -7.7-1.2 -10.4-2.6 -5.6-15.4 -1.4-2.1 -2-1.4 -3-1 -2.8 .1 -2.9 .9 -3.4 2.1 -2.3 2.1 -1.8 2.8 -.8 2.1 -.3 2.8 .6 2.8 1.9 4.9 1.3 2 4.2 4.3 0 .7 -2.2 2.8 -5.5 5.9 -1.4 2.1 -2.8 5.6 -3.3 9.5 -1.2 2.1 -2.8 3.5 -3.6 4.2 -2.4 2.2 -9.1 5.9 -3.5 1.9 -7.7 3.5 -9.1 3.6 -29.6 10.2 -3.2 1.4 -2.3 1.4 -3.2 2.8 -1.8 2.1 -1.9 3.3 -1.4 3.4 -.7 2.7 -.6 3.9 -.1 10.5 .6 7 .8 3.6 2.1 5.8 2.8 4.6 9.8 13.1 6.3 7.4 5.7 5.4 7.6 6.2 17.4 9.9 19.8 9.8 4.1 1.6 16.1 5.2 12.6 5.4 21.3 7.4 5.9 2.8 1.7 1.4 .5 1.6 .5 .5 .2 1.4 .7 0 0 42 -6.3 0 -.7-.7 0-.7 -1.4-1.4 0-.7 -1.4-1.4 0-.7 -.7-.7 0-.7 -1.4-1.4 0-.7 -.7-.7 0-.7 -1.4-1.4 0-.7 -.7-.7 0-.7 -1.4-1.4 0-.7 -.7-.7 0-.7 -1.4-1.4 0-.7 -.7-.7 0-.7 -1.4-1.4 0-.7 -1.4-1.4 0-.7 -2.1-2.1 0-.7 -1.4 1.4 -.7 0 -.7 .7 -.7 0 -.7 .7 -3.5-.3 -.1-.4 -1.3-.3 -1.8-3.2 -1.7-2.1 -2.8-1.8 -47.6-19.6 -14.7-5.4 -5.5-3.3 -4-2.8 -2.4-2.1 -9.8-12.3 -13-18.5 -3.1-5.3 -7.7-14.8 -1.4-4.3 -2.4-11.3 -1.8-14.7 -.5-7.7 0-3.5 .7-6.3 2.1-7.7 1.4-2.8 1.9-2.8 2-2.1 3-2.1 2-.9 3.5-.7 3.6-.5 7.6-.4 15.4-2.5 10.5-3 4.9-.9 9.8-2.8 4.2-1.3 3.5-1.5 7.7-4.6 6.3-4.3 2.1-2.4 2.8-4.1 1.7-3 1.1-2.8 2.9-13.3 .2-11.9 1.1-9.1 1.2-3.5 2.8-4.9 1.2-1.4 1.8-1.4 4.5-2.8 3.2-1.5 13.3-2.7 8.4-.7z" fill="#da3e50"/><path d="M633.9 134.4l2.8-.2 2.1 .3 2.8 1.4 1.4 1.4 1.1 2.1 5.3 14.7 10.4 2.6 7.7 1.2 .7 .3 0 198.2 -.7 0 -.2-1.4 -.5-.5 -.5-1.6 -1.7-1.4 -2.7-1.4 -5.2-2.1 -19.3-6.7 -12.6-5.4 -16.1-5.2 -4.1-1.6 -19.8-9.8 -17.3-9.8 -6.9-5.6 -5.1-4.7 -8.4-9.7 -7.7-10.2 -3.5-5.3 -2.1-4.8 -1.4-5.3 -.8-10.4 .2-7 .6-4.6 .8-3.1 2-4.4 1.8-2.6 2.4-2.5 3-2.4 4.5-2.1 29.6-10.2 9.1-3.6 8.4-3.9 8.4-5 4.2-2.9 3-3.1 4.6-5.6 1.7-2.8 3.3-9.5 2.8-5.6 1.4-2.1 5.5-5.9 2.2-2.8 0-.7 -.6-.7 -4.3-4.6 -1.2-2.4 -1.8-5.6 -.1-2.1 .5-2.1 1.9-3.5 1.9-2.1 3-2.1 3.3-1.4z" fill="#a41a46"/></g>
<mask id="lmask" maskUnits="userSpaceOnUse" x="290" y="100" width="390" height="370"><rect x="290" y="100" width="390" height="370" fill="#fff"/><path d="M595.8 129.2 L602.0 127.6 L608.7 126.0 L615.0 124.3 L621.5 122.7 L628.0 121.4 L634.4 120.2 L641.0 119.6 L647.3 119.3 L654.0 119.1 L661.8 119.0" stroke="#444" stroke-width="7" fill="none"/><path d="M401.0 174.2 L407.8 171.3 L414.0 169.4 L420.4 167.9 L427.0 166.5 L433.1 165.1 L440.0 163.4 L447.4 160.8" stroke="#444" stroke-width="6" fill="none"/></mask>
<g fill="none" stroke="#1a1a1a" stroke-width="0.55" stroke-opacity="0.85" mask="url(#lmask)"><path d="M300 233.4l.1 3.3 1 .7 8.2 1.4 37.6 4.4 9.1 1.6 9.8 2.2 8.4 2.9 2.1 1 4.2 2.8 7 5.5 10.5 5.3 5.6 1.9 4.9 .7 2.1-.2 5.3-1.5 5.1-2.1 4.3-2.7 6.1-5.7 4.4-5.2 2.1-3.4 2.7-6.8 1.4-5.6 .2-4.9 .9-5.6 -.4-2.8 -1.3-3.7 -1.4-2.7 -2.7-3.4 -2.8-2.1 -4.1-2.1 -3-.8 -5.6-.6 -16.1 .6 -9.1 1.5 -11.9 2.5 -3.5 .4 -3.5-.3 -2.8-.7 -2.1-.8 -1.6-1.1 -1.2-1.4 -1.1-2.1 -.1-2.8 .8-2.1 .9-1.4 3.7-3.4 1.1-1.5 .8-2.8 -.6-2.1 -1.3-1.5 -1.4-.3 -1.4 .2 -8.4 3 -2.8 .6 -.4-.6 .9-.7 7.9-4.9 1.4-1.1 .9-1.7 -.2-1.5 -3.6-5.5 -11.1-14.6 -17.1-20.4 -18.9-25.2 -1.3-2.1 -.4-1.4M328.4 462.1l-.7-7.7 -.8-3.5 -2.1-5.6 -2.5-4.2 -2-2.1 -3.5-2.7 -4.9-2.5 -4.9-1.4 -6.3-.4 -.7-.7 0-7M344.1 462.1l-1.4-1.4 0-.7 -.7 .7 -1.4 0 -.7 .7 -2.1 0 -.7 .7 -1.4 0M396.6 175.1l-2.8 .6 -5.2 2.2 -1.8 2.1 -.3 1.4 .4 .7 1.1 .7 1.6 .4 3.5-.4 7-2.1 4.2-.9 1.7-1.2 .7-1.4 -.2-.7 -.6-.7 -1.6-.7 -2.1-.1 -2.8 .4 -2.1-.3z"/><path d="M403.6 110l0 9.8 -.7-.7 0-1.4 -.7-.7 0-7M605.6 110l0 13.3 1.7 .3 7.7-1.2 16-4 1.2-.7 .1-7.7M300 249.3l4.2-.7 3.5 .2 14.7 3.3 14 2.6 7.7 2 7 3.8 4.6 3.5 6.5 6.3 4.6 6.3 7.1 11.2 8 9.8 2.2 2.1 6.2 4.9 5.6 3 3.5 1.1 3.5 .5 4.2 0 2.8-.4 2.8-1.2 3.4-2.3 2.2-2.2 2.8-3.3 7-11.3 5.2-10.5 10.9-19.2 4.4-8.8 3.6-11.2 2.5-11.2 .7-4.9 .2-6.3 -1-6.3 -1.8-3.5 -1.1-1.4 -1.8-1.4 -4.3-1.8 -5.6-.9 -7-.4 -37.1-.9 -8.1-1.6 -1.3-.7 -1-1.4 -.3-2.1 .7-2.1 1.3-1.4 2.4-1.2 4.2-1.5 11.2-3.1 15.4-2.9 8.4-1 2.1-.5 2.1-.9 1-.8 1.1-1.4 .5-1.4 .1-2.1 -.9-2.1 -1.1-1.2 -2.1-.8 -3.5-.2 -12.6 1.2 -7.7 .4 -3.3-.1 -3.8-.7 -2.5-1.4 -3-2.5 -1.4-.2 -5.6-.1 .7-.7 2.1 0 .7-.7 2.1 0 .7-.7 1.4 0 .7-.7 2.1 0 .7-.7 2.1 0 .7-.7 1.4 0 .1 7.7 .6 .6 .5-.6 0-59.5M405.7 462.1l0-.7 -.7-.7 0-1.4 -.7-.7 0-.7 -.7-.7 0-1.4 -.7-.7 0-.7 -.7-.7 0-1.4 -.7-.7 0-.7 -.7-.7 0-.7 -.7-.7 0-1.4 -.7-.7 0-.7 -.7-.7 0-1.4 -.7 0 -.7 .7 -1.4 0 -.7 .7 -2.1 0 -.7 .7 -1.4 0 -.7 .7 -2.1 0 -.7 .7 -1.4 0 -.7 .7 -2.1 0 -.7 .7 -1.4 0 -.7-.7 -4.9-2.8 -3.5-1.3 -2.1-.1 -5.6 .8 -2.3-.1 -.1-.7 1.4-1.4 14.3-9.8 1.4-1.4 .7-1.4 -.3-1.4 -3.2-4.5 -3.7-3.9 -2.6-2.2 -20.3-12.3 -14-6.2 -9.1-4.6 -10.5-3.9 -7-2.1 -2.8-.4 -6.3-.2M551.3 163.1l-2.8 1.2 -2.8 .5 -1.5 1.2 -.6 1.2 -.1 .9 .6 1.4 .9 1 1.4 .9 4.9 1.9 2.8 .4 3.5 0 2.8-.4 2.7-1 3.6-1.8 1.4-1.7 .2-1.4 -.9-1.5 -1.4-.9 -2.8-.8 -2.1-1 -3.5-.6 -5.6 .3z"/><path d="M596.7 110l.1 16 2.8 .5 15.4-3 7-1.9 8.4-1.8 9.2-2.8 .4-.7 0-6.3M300 261.2l3.5-.3 6.3 .3 7 .7 8 1.4 4.1 1.4 3.5 2.1 2.7 2.1 2 2.2 2.9 4.1 1.3 2.4 .9 2.5 2.1 9.8 1.1 12.6 -.7 9.8 0 4.9 -1.6 8.4 -1.4 4.2 -1.3 2.8 -4.7 7 -2.6 2.8 -3 2.6 -4.9 3.1 -4.9 2.7 -12.6 5.9 -2.8 .5 -4.9 .3M438.6 462.1l-.7-.7 0-1.4 -.7-.7 0-1.4 -.7-.7 0-2.1 -.7-.7 0-1.4 -.7-.7 0-1.4 -.7-.7 0-1.4 -.7-.7 0-1.4 -.7-.7 0-1.4 -.7-.7 0-1.4 -.7-.7 0-1.4 -.7-.7 0-2.1 -.7-.7 0-1.4 -.7-.7 -.7 0 -.7 .7 -1.4 0 -.7 .7 -1.4 0 -.7 .7 -2.1 0 -.7 .7 -1.4 0 -.7 .7 -2.1 0 -.7 .7 -2.8-.2 -6.7-3.3 -3.1-1.1 -2.1 .1 -11.2 2 -1.4 0 -.9-.3 .4-.7 2.8-2.1 20-12.6 3.4-2.8 1.2-1.4 .8-1.4 .3-2.1 -.7-14.7 .1-23.8 1.4-15.4 .8-2.1 4-7.4 3.5-7.9 2.6-12 1.2-7.7 .7-2.8 4.6-10.2 9.6-29 6.7-16.1 5-13.3 3.3-10.5 2.4-9.1 1.5-12.6 0-2.8 -.7-5.6 -1.2-3.5 -1.3-2.1 -1.5-1.4 -2.4-1.4 -3.2-1.4 -6.3-1.5 -6.3-.7 -25.9-.7 -11.2-.7 -4.9-1.1 -2.3-.2 -1.5-.7 -.6-.7 -.1-.7 .5-.7 .8-.7 3.2-1.2 6.3-3.2 5.6-.6 3.5-.9 15.4-1.8 5.6-1.4 2.1-1.3 1.4-1.5 .7-1.4 .8-2.8 .1-11.9 -1.1 0 -.5 .3 -2.1 .3 -1.4 .5 -9.1 1.9 -9.8 1.6 -7 .5 -.9-.2 -.7-.7 0-58.1M546.4 158.3l-7 .6 -3 .8 -3.1 2.1 -1.5 1.4 -.3 .7 1.9 4.2 1.6 2.1 2 1.4 6.6 3.5 3.5 1.1 7 .9 4.2 .1 4.9-.6 3.5-.9 2.8-1.3 2.9-2.1 1.5-2.1 .6-2.8 -.2-1.4 -.7-1.4 -2-2.4 -2.8-1.5 -3.5-1.3 -3.5-.7 -9.1-.6 -6.3 .2"/><path d="M592 110l0 16.8 1 .7 3.1 .2 3.9-.2 7.3-1.4 27.3-6.6 13.3-2.5 2-.7 .1-6.3M300 278.6l6.3 .7 2.1 .9 1.5 1.3 1.9 2.8 .9 2.1 .3 2.1 .4 7 -.3 4.2 -.5 3.9 -1.4 5 -1.1 2.3 -1.7 1.8 -2.1 1.3 -2.1 .5 -4.2 .4M458.9 462.1l0-.7 -.7-.7 0-2.8 -.7-.7 0-3.5 -.7-.7 0-2.8 -.7-.7 0-3.5 -.7-.7 0-2.8 -.7-.7 0-3.5 -.7-.7 0-2.8 -.7-.7 0-3.5 -.7-.7 0-1.4 -2.1 0 -.7 .7 -1.4 0 -.7 .7 -3.5-.1 -.8-.6 -5.6-2.8 -3.4-.9 -2.1 .2 -15.4 3.3 -3 .2 -.6-.7 1.6-1.4 3.1-2.1 20.9-12.6 3.5-2.8 1.5-2.1 .1-2.1 -1.4-7 -1.3-9.1 -1.8-18.9 .3-4.9 2.7-25.9 3.7-20.3 5-18.9 4.7-20.3 4.5-15.4 8.4-33.6 1.2-11.2 -.1-4.9 -1.4-7.7 -1.2-2.8 -2.8-2.8 -2-1.4 -7.1-3.2 -4.2-1.3 -2.8-.5 -14-.6 -4.2-1 -4.9 .8 -2.8-.3 -2.8-.9 -3.5 .7 -1.4 0 -1.4-.4 -1.1-1 0-1.4 .6-1.4 .6-.7 1.3-.8 1.4-.2 3.5 .3 2.8-1.1 2.8-.4 4.9 .5 2.8-1 4.3-.8 2.7-1.6 1.6-1.9 .9-2.8 .5-3.5 .2-7.7 1.2-5.6 -1.6-.1 -2.8 .9 -12 2.7 -11.8 1.9 -4.2 .1 -1.6-.6 0-57.4M545 154.8l-11.2 .7 -11.4 2.1 -3.3 1.4 -1.9 1.4 -.8 1.4 .1 1.4 1.3 2.1 1.6 1.4 4.6 3.2 5.2 3.1 12 4.9 5.2 1.4 11.2 1.2 10.5-1.4 3.5-1.2 3.5-2.1 2.1-1.6 1.4-1.9 1.1-2.8 .5-2.1 -.5-3.5 -.6-1.4 -1.2-1.4 -3.5-2.6 -3.5-1.4 -7-1.7 -11.9-.7 -6.3 .1z"/><path d="M586.1 110l0 18.2 .9 .5 2.1 .1 11.2-.5 8.4-1.7 14-3.6 11.9-2.7 5.6-.9 9.8-1.3 11.9-.8 0-7.3M482.7 462.1l0-.7 -.7-.7 0-2.8 -.7-.7 0-2.8 -.7-.7 0-2.8 -.7-.7 0-3.5 -.7-.7 0-2.8 -.7-.7 0-2.8 -.7-.7 0-2.8 -.7-.7 0-3.5 -.7-.7 0-2.8 -.7-.7 0-2.8 -.7-.7 0-2.8 -.7 0 -.7 .7 -1.4 0 -.7 .7 -1.4 0 -.7 .7 -2.8 0 -.1-.7 -.6-.1 -4.3-2.7 -2.7-1.1 -2.1-.3 -14 2.9 -2.8 .3 -1.7-.4 1.2-1.4 3.2-2.1 20.3-11.9 2.6-2.1 .9-1.4 -.1-1.4 -2.2-5.6 -1.6-6.3 -1.1-18.2 -1.5-11.2 -.7-19.6 .3-19.6 2-20.3 3-18.2 4.7-21.7 3.1-19.6 2.8-12.6 .8-8.4 -1-10.5 -.6-2.1 -1.2-2.8 -2.4-3.5 -2.8-2.1 -16.1-10.3 -2.1-.8 -1.4 .1 -4.2 2.4 -1.4 .3 -1.7-.1 -.2-.7 5-3.5 .7-1.4 -.1-2.1 -1.2-5.6 -.2-6.3 .7-5.6 1.3-4.2 -.8-.1 -10.6 2.9 -10.4 2.1 -9.1 1.2 -3-.5 0-56.7M535.9 152l-9.1 .9 -8.4 1.6 -4.2 1.2 -3.3 1.9 -2 2.1 -.6 1.4 .5 2.1 1.1 2.1 1.9 2.1 6.6 5.5 3.5 2.5 4.8 1.8 11.2 3.5 6.4 1.3 14 1.5 13.3-1.7 2.8-.8 2.1-1.2 4.6-3.3 1.7-2.1 1.4-4.2 .5-2.8 -.7-5.6 -.5-1.4 -1.4-1.9 -2.8-2.6 -1.8-1.1 -7.8-2.1 -5.1-.9 -14.7-.4 -13.3 .5zM436.5 190.2l2.4 .3 -1.7 .3 -1.2-.3z"/><path d="M580.7 110l0 19.6 .7 .4 1.4 .2 11.2-.6 6.3-.6 14.7-3.3 9.8-2.6 9.8-2.1 5.6-.8 9.8-1 11.9-.6 .1-8.6M495.6 462.1l-3.1-25.9 -.7-2.8 0-4.2 -.7-1.4 0-5.6 -.7-.7 0-4.2 -1.4-.4 0-.3 -.7-.2 -.3-.5 -5-2.8 -3.1-1 -2.1 .1 -11.4 2.3 -2.6 .2 -.9-.2 1.2-1.4 3.2-2.1 18.4-10.5 1.7-1.4 .5-1.4 -.5-1.4 -2.1-4.2 -1-2.8 -2.3-18.6 -3.4-11.5 -2.7-20.3 -1.7-17.5 -.3-6.3 -.6-15.4 .8-20.3 4.5-37.8 2-10.4 .8-7.1 -.5-9.1 -.9-6.3 -1.6-5.6 -.7-1.4 -1.3-1.4 -3.5-2.6 -18.9-11.9 -2.1-1.6 -1.7-2.1 -2.3-4.9 -.6-4.9 .3-5.6 .8-3.5 1-2.8 -.3-.2 -1.4 0 -8 2.3 -13.4 2.8 -6.6 .7 -3.5 0 -.1-56M540.1 148.5l-9.8 .5 -4.2 .5 -12.6 2.5 -4.2 1.5 -4.2 3.3 -1.5 2.2 -.1 1.4 .2 1.4 2.4 6.3 1.8 2.2 7.2 6.2 2.6 1.8 2.1 1 18.2 4.9 16.8 1.9 5.6 .2 15.4-2.3 1.4-.5 2.2-1.4 4.8-3.8 1.6-1.8 .8-2.1 1.5-6.3 0-2.8 -.8-4.9 -.6-2.1 -.9-1.4 -3.2-3.5 -1.9-1.5 -3.5-1.3 -9.8-2.1 -16.8-.4 -9.8 .4z"/><path d="M514.2 110l0 21.7 -.7 .7 0 2.1 2.8 0 .7-.7 2.8 0 .7-.7 2.8 0 .7-.7 3.5 0 .7-.7 2.8 0 .7-.7 2.8 0 .7-.7 2.8 0 .7-.7 2.8 0 .7-.7 3.5 0 .7-.7 2.8 0 .7-.7 2.8 0 .7-.7 2.8 0 0-.7 -1.4-1.4 0-.7 -.7-.7 0-.7 -1.4-1.4 0-.7 -.7-.7 0-.7 -.7-.7 0-.7 -.7-.7 0-7M576.3 110l0 20.3 .9 .5 4.9 .4 18.2-1.6 34.3-8 13.3-1.4 14-.7 .2-9.5M510 462.1l0-4.2 -.7-.7 0-5.6 -.7-.7 0-4.9 -.7-.7 0-4.9 -.7-.7 0-4.9 -.7-.7 0-4.9 -.7-.7 0-4.9 -.7-.7 0-4.2 -.7-1.4 -.1-4.9 -.6-.2 0-.5 -.8-.7 -2.8-2.1 -3.4-1.8 -2.1-.2 -5.6 .6 -.8 0 -.2-.7 1.7-1.4 9.2-5.6 1.1-1.4 .1-.7 -3.4-4.9 -1.2-2.8 -.6-2.1 -2-18.2 -3-12.6 -4-20.3 -2.4-16.1 -1.2-13.3 -.6-9.1 -.4-20.3 2.4-36.4 1.9-11.9 .8-9.1 -.5-9.1 -1.5-7.7 -1.1-2.8 -2.9-2.8 -6.8-4.4 -16.1-9.1 -2.5-1.9 -2.3-2.8 -1.3-2.1 -.8-2.1 -.7-5.6 .8-6.3 1.7-4.9 -1.2-.2 -11.2 3.1 -5.9 1.3 -8.8 1.5 -3.2-.1 -.1-54.6M545 144.3l-11.2 .9 -8.4 1 -15.4 3.3 -2.8 .8 -2.1 1 -1.4 1.3 -1.4 2 -1.2 2.3 -.3 1.4 0 2.1 .6 3.5 .8 4.2 .8 2.1 1.7 2.1 6 5.7 2.6 2 2.7 1.4 17.8 5 17.5 2 8.4 .6 18.2-2.5 1.4-.5 1.8-1.1 5.4-4.2 1.9-1.9 1.3-3 1.8-7.7 -.1-2.8 -.8-6.3 -.5-2.1 -1-2.1 -3.5-4.2 -2.1-2.1 -1.4-.8 -2.1-.8 -7.7-2.2 -2.8-.5 -15.4-.3 -8.4 .3z"/><path d="M493.9 110l0 3.5 .7 .7 0 1.4 .7 .7 0 1.4 .7 .7 0 1.4 .7 .7 0 1.4 .7 .7 0 1.4 .7 .7 0 1.4 .7 .7 0 1.4 .7 .7 .2 10.5 1.7 2.1 2.9 2.1 1.5 .4 2.1 0 21.3-3.9 4.6-.4 15.4-3.1 1.8 0 -.1 .7 -2.5 .7 -13.2 2.5 -4 1 -22.6 4.7 -6.3 1.5 -2.1 .9 -.8 .6 -.5 1.4 -.3 7 .2 3.5 1.5 9.1 .6 1.5 1.4 2.1 4.9 5.5 2.8 2.2 4.9 2.3 10.5 3.5 4.9 1.4 4.2 .7 24.5 2.6 19.6-2.3 2.1-.5 1.8-.8 5.8-4.2 3-2.8 1.5-2.8 1.9-6.3 .6-3.5 0-2.8 -1.1-10.5 -3-8.2 -4.4-9.3 -1.6-4.2 -1-.9 -1.4-.4 -10.5 1.3 -2.1-.1 -.5-.6 2.1-2.8 1.9-5.5 .7-.8 .2 7 .5 .5 4.2 .1 1.4 .7 2.8 0 2.8-.6 14-1.6 34.3-7.9 12.6-1.3 14.7-.6 .3-3.3 0-7M525.4 462.1l0-3.5 -.7-.7 0-2.8 -.7-.7 0-3.5 -.7-.7 0-3.5 -.7-1.4 0-3.5 -.7-2.1 -.1-2.8 -.5-1.4 -.2-3.5 -.5-1.4 -.2-2.8 -.5-2.1 -.2-2.8 -2.5-14.7 -.7-1.4 -3.7-2.3 -3.1-2.6 .1-.7 .6-.7 2.8-2.1 .9-1.4 -.6-1.1 -2.8-1.9 -2-1.9 -1.4-2.1 -.9-2.1 -2.8-17.5 -1.6-7.7 -6.4-22.4 -4.4-21 -2.3-19.6 -1.5-21 -.1-18.2 .6-18.9 1.6-12.6 .9-10.5 0-9.1 -1-7.7 -.6-1.4 -1.2-1.6 -5.8-4.7 -6.1-3.6 -14-7.3 -2.8-2.2 -2.6-3 -.9-1.4 -.9-2.1 -.8-4.9 .7-5.6 1.9-6.3 -.2-.4 -2.1 .1 -2.8 .7 -11.2 3.2 -7.4 1.3 -1.3 0 -.1-52.5M562.5 134.5l2.3 0 -1.6 .3 -1-.3zM559 135.2l2.1-.2 .8 .2 -2.9 0zM556.2 135.9l1.4 0 -1.6 0z"/><path d="M487 110l.5 10.5 3.7 21.7 .5 1.4 2.5 2.8 .3 2.1 1 2.8 .7 3.5 .9 9.8 1.1 7 2.7 7 .9 5.6 .5 .7 7 1.5 14 5 3.5 .9 18.2 2.9 8.4 .8 4.9 .1 3.5-.2 13.1-1.9 4.2-.7 2.3-.7 7.2-3.5 3.3-2 1.4-1.5 2.7-4.2 1.4-2.8 .8-2.8 .9-5.6 .2-4.2 -1-11.2 -2.6-10.5 -1.3-7 -.3-2.8 .2-2.8 14.4-2.9 15.4-3.8 10.5-2.2 12.6-1.2 14.7-.5 .4-3.4 0-7.7M548.5 462.1l0-.7 -.7-.7 0-2.1 -.7-.7 0-2.1 -.7-.7 0-2.1 -.7-.7 0-2.1 -.7-.7 0-2.1 -.7-.7 0-2.1 -.7-.7 0-2.1 -.7-.7 0-2.1 -.7-.7 0-2.1 -.7-.7 0-2.1 -.7-.7 0-2.1 -.7-.7 0-2.8 -.7-.7 0-2.1 -.7-.7 0-2.1 -.7-.7 0-2.1 -.7-.7 0-2.1 -.7-.7 0-2.1 -.7-.7 0-2.1 -.7-.7 0-2.1 -.7-.7 0-2.1 -.6-.7 0-.7 -2.9-.1 -.7-.2 -.7-.9 -1.1-3 .5-3.5 -.1-.7 -.5-.7 -3.7-1.5 -2.1-1.3 -2.2-2.1 -1.2-2.1 -.9-2.8 -3.4-14.7 -2.4-8.4 -8.5-21.7 -5.7-19.6 -2.8-19.6 -2.3-18.9 -1.2-20.3 -.1-21 2.1-19.6 .5-10.5 -.2-7.7 -1-9.1 -.6-.7 -3-.5 -2.1-.8 -17.5-8.9 -3.1-2.4 -2.2-2.1 -2.2-3.5 -1.6-4.2 -.5-5.6 .2-6.3 1.2-3.5 -1.6-.3 -.7 .4 -3 .6 -1.9 0 0-45.5"/><path d="M577.2 462.1l0-1.4 -.7-.7 0-1.4 -.7-.7 0-.7 -.7-.7 0-1.4 -.7-.7 0-1.4 -.7-.7 0-.7 -.7-.7 0-1.4 -.7-.7 0-1.4 -.7-.7 0-.7 -.7-.7 0-1.4 -.7-.7 0-1.4 -.7-.7 0-.7 -.7-.7 0-1.4 -.7-.7 0-.7 -.7-.7 0-1.4 -.7-.7 0-1.4 -.7-.7 0-.7 -.7-.7 0-1.4 -.7-.7 0-1.4 -.7-.7 0-.7 -.7-.7 0-1.4 -.7-.7 0-1.4 -.7-.7 0-.7 -.7-.7 0-1.4 -.7-.7 0-1.4 -.7-.7 0-.7 -.7-.7 0-1.4 -.7-.7 0-1.4 -.7-.7 0-.7 -.7-.7 0-1.4 -.7-.7 0-1.4 -.7-.7 0-.7 -.7-.7 0-1.4 -.7-.7 0-1.4 -.7-.7 .7-.3 .2-3.2 -.3-.7 -2-1.4 -5.6-2.2 -2.1-1.4 -13.3-15.3 -2.7-3.5 -1.5-2.8 -3.4-8.4 -9.6-19.6 -8-19.6 -4.9-21.8 -2.5-18.1 -1.4-18.9 -.6-21.7 1.2-14.7 1.8-12.6 2-5.6 1.5-2.8 1.5-1.3 2.1-1.3 3.5-1.4 3.5-.3 25.9 1.5 14-.1 4.9-1.3 21.7-4.3 9.8-3.8 4.2-2.1 2.6-2.4 3-4.2 2-4.9 1.1-4.2 .4-5.6 -.1-4.2 -.5-8.4 -1.4-9.8 -.1-3.5 .1-6.3 1.2-4.9 .8-.1 .9-.6 8.9-1.9 13.3-3.4 8.4-1.7 12.6-1.1 14.7-.5 .4-2.6 .1-9.1M473.6 142.2l4.2 .1 .4 .6 1 .2 .2 .5 .5 .2 1.8 3.3 1.3 1.4 2.2 1.4 5.3 2.1 1.5 1.4 1.3 2.1 .6 2.1 .6 4.9 0 6.3 -.4 2.8 -1.1 3.5 -.8 1.4 -2.5 2.4 -2.1 1.4 -2.8 .7 -3.5 .3 -2.8-.3 -3.5-1 -2.8-1.5 -2.1-1.6 -1.4-1.8 -1.8-3.5 -.8-2.8 -.5-4.9 .1-4.2 .4-2.8 1.5-2.1 5.8-4.2 1.5-1.4 1.2-2.1 .7-2.8 .2-.7 -.6-.7 -3.5 0z"/><path d="M600.3 462.1l-.7-.7 0-.7 -.7-.7 0-1.4 -.7-.7 0-1.4 -.7-.7 0-1.4 -.7-.7 0-1.4 -.7-.7 0-1.4 -.7-.7 0-1.4 -.7-.7 0-1.4 -.7-.7 0-1.4 -.7-.7 0-1.4 -.7-.7 0-1.4 -.7-.7 0-1.4 -.7-.7 0-1.4 -.7-.7 0-1.4 -.7-.7 0-1.4 -.7-.7 0-1.4 -.7-.7 0-1.4 -.7-.7 0-1.4 -.7-.7 0-1.4 -.7-.7 0-1.4 -.7-.7 0-1.4 -.7-.7 0-1.4 -.7-.7 0-1.4 -.7-.7 0-1.4 -.7-.7 0-1.4 -.7-.7 0-1.4 -.7-.7 0-1.4 -.7-.7 0-1.4 -.7-.7 0-1.4 -.7-.7 0-1.4 -.7-.7 0-1.4 -.7-.7 0-1.4 -.7-.7 0-.7 -.7-.7 0-2.1 .7-1.6 .7-3.2 -.3-1.5 -1.8-1.4 -5.6-2.8 -9.2-9.1 -2.7-2.1 -10.5-5.9 -7.7-3.4 -1.8-1.2 -1.7-1.5 -4.3-4.8 -2-2.7 -11.9-20.1 -4.5-9.4 -6-21 -4.1-17.5 -.7-4.2 -1.5-18.2 -.8-19.6 1-14.7 1.5-9.8 1.1-4.1 2.3-4.3 2.3-2.1 3.1-1.4 4.2-.3 24.5 .6 16.1-1.1 13.3-2.7 2.1 0 2.8 .7 7.8-2.1 -.9-.7 .3-.7 3.2-1.4 2.2-.5 6.3-3.5 2.9-2.3 4.3-4.2 2.1-3.5 2.6-5.6 .6-3.5 .5-6.3 -.9-19.6 .1-3.5 1-6.3 1-2.1 1.9-3 2.2-1.9 3.8-2.1 1.7-.3 .6-.4 1.5-.1 1.1-.6 1.7-.2 1.4-.6 9.8-2.1 13.3-1.2 14.7-.4 .4-1.1 .1-1.4 .1-9.8M479.9 154.1l2.1 .1 3 .6 1.9 .8 1.8 1.3 1 1.1 .7 1.5 .7 4.4 -.2 3.5 -.4 2.1 -1 2.1 -1.3 2.1 -1.3 1.4 -1.4 1 -2.8 1 -2.1 .4 -2.1-.2 -2.4-.8 -1.8-.9 -1.4-1.3 -1.4-2 -1.4-2.8 -.8-4.9 .1-2.1 .4-2.1 .5-1.4 .9-1.4 3.1-2.2 2.1-.7 3.2-.6z"/><path d="M621.3 462.1l0-1.4 -.7-.7 0-2.8 -.7-.7 0-3.5 -.7-.7 0-2.8 -.7-.7 0-2.8 -.7-.7 0-2.8 -.7-.7 0-2.8 -.7-.7 0-3.5 -.7-.7 0-2.8 -.7-.7 0-2.8 -.7-.7 0-2.8 -.7-.7 0-3.5 -.7-.7 0-2.8 -.7-.7 0-2.8 -.7-.7 0-2.8 -.7-.7 0-2.8 -.7-.7 0-2.1 -.7-.7 0-2.1 -.7-.7 0-1.4 -.7-.7 0-1.4 -.7-.7 0-1.4 -.7-.7 0-1.4 -.7-.7 0-.7 -.7-.7 0-.7 -.7-.7 0-.7 -.7-.7 0-.7 -.7-.7 0-.7 -.7-.7 .2-.7 .5-.1 .7-2.5 .2-3 -.4-1.4 -.6-.7 -2-.8 -10.5-1.2 -2.7-.8 -11.3-7.3 -11-5.3 -3-1.8 -10.3-8.7 -8.6-8.4 -17.6-19.6 -2.9-4.2 -7.5-17.8 -4.9-16.7 -1.1-4.7 -2.4-16.8 -.4-4.9 -.7-16.8 1.1-10.9 2.1-9.4 2.1-5.2 1.4-2.3 1.4-1.5 1.4-1 2.1-1 2.8-.7 4.2-.4 18.9-.6 14.7-1.7 9.8-2.3 4.2 .7 2.1-.1 10.5-2.5 4.2-1.9 2.9-3.3 4.1-2.6 7.3-5.8 2.1-2.8 3.6-6.3 .7-2.8 1.2-8.4 -.3-13.3 .6-9.1 2.3-6.7 1-1.7 1.9-2.1 2.7-2.5 2.8-1.6 7-2.6 9.8-2.9 7.7-1.6 15.4-.3 .4-.4 .2-.7 .1-6.3 5.6 0M479.9 161.1l2.1-.1 2.1 .9 1.9 2 .8 2.1 -.1 2.1 -1.1 2.1 -1.5 1.4 -2.1 .9 -2.1-.1 -2.1-1 -1.6-1.9 -.7-2.1 .1-2.1 1-2.1 1.2-1.2 2-.9z"/><path d="M668.2 398.4l-6.3 0 -.7-.7 0-.7 -1.4-1.4 0-.7 -1.4-1.4 0-.7 -.7-.7 0-.7 -1.4-1.4 0-.7 -.7-.7 0-.7 -1.4-1.4 0-.7 -.7-.7 0-.7 -1.4-1.4 0-.7 -.7-.7 0-.7 -1.4-1.4 0-.7 -.7-.7 0-.7 -1.4-1.4 0-.7 -1.4-1.4 0-.7 -2.1-2.1 0-.7 -1.4 1.4 -.7 0 -.7 .7 -.7 0 -.7 .7 -3.5-.3 -.1-.4 -1.3-.3 -1.8-3.2 -1.7-2.1 -2.8-1.8 -47.6-19.6 -14.7-5.4 -5.5-3.3 -4-2.8 -2.4-2.1 -9.8-12.3 -13-18.5 -3.1-5.3 -7.7-14.8 -1.4-4.3 -2.4-11.3 -1.8-14.7 -.6-9.8 .9-8.4 1.1-4.2 1.2-3.5 1.6-2.9 2-2.7 2.2-2 2.2-1.5 2-.9 3.5-.7 3.6-.5 7.6-.4 15.4-2.5 10.5-3 7-1.4 9.1-2.7 6.6-2.6 9.5-5.8 4.6-3.3 1.7-2 2.5-3.6 1.7-2.9 1.1-2.7 3.2-14 .2-12.6 1.3-9.1 1-2.8 1.9-3.5 1.5-2.1 1.7-1.6 5.2-3.3 3.2-1.5 7.7-1.7 7.7-1.3 9.8-.6 4.9 .1 2.4 .8 3.9 2.7"/><path d="M668.2 356.4l-.7 0 -.2-1.4 -.5-.5 -.5-1.6 -1.7-1.4 -2.7-1.4 -5.2-2.1 -19.3-6.7 -12.6-5.4 -16.1-5.2 -4.1-1.6 -8.9-4.2 -12.2-6.3 -12.6-7 -4.2-2.7 -7.7-6.4 -6.3-6.3 -5.6-6.7 -7-9.2 -3.5-5.1 -2.1-4.1 -1.8-5.7 -.7-4.9 -.4-7 .4-9.1 .6-3.5 .9-2.8 1.7-3.7 1.4-2.2 2.3-2.5 2.6-2.2 2.2-1.3 3.2-1.4 29.6-10.2 9.1-3.6 7-3.2 4.2-2.2 8.4-5.4 2.1-1.6 2.9-3.2 5.4-7 3.6-10.2 2.8-5.6 1.4-2.1 5.5-5.9 2.2-2.8 0-.7 -4.2-4.3 -1.3-2 -1.9-4.9 -.6-2.8 .3-2.8 1.2-2.8 2.1-2.8 2.6-2.1 2.5-1.4 3.5-1 2.8 .2 2.3 .8 2 1.4 1.4 2.1 5.6 15.4 10.4 2.6 7.7 1.2 .7 .3"/></g>
<g fill="none" stroke="#3a0a1a" stroke-width="0.55" stroke-opacity="0.75"><path d="M663 177C650 184 634 191 618 199S590 214 578 226S563 250 562 270S566 295 578 304S610 318 630 322S655 327 665 329"/><path d="M665 204C652 207 640 211 628 218S610 236 607.5 252S609 278 614 287S635 302 650 306S662 310 665 310.5"/><path d="M665 216.5C655 219 646 224 642 234S639 260 642 270S652 282 665 285.5"/></g>
<g fill="none" stroke="#222" stroke-width="0.5" stroke-opacity="0.6" stroke-dasharray="2.2 1.6"><path d="M306 231C318 227 332 222 340 217S350 206 354 200"/><ellipse cx="405.5" cy="223" rx="18" ry="12"/></g>
</g>
<g stroke="#3a3a3a" stroke-width="0.68">
<path d="M288.9 464.2h6.4M292.1 461.2v6"/>
<path d="M288.9 408.3h6.4M292.1 405.3v6"/>
<path d="M288.9 352.5h6.4M292.1 349.5v6"/>
<path d="M288.9 296.7h6.4M292.1 293.7v6"/>
<path d="M288.9 240.8h6.4M292.1 237.8v6"/>
<path d="M288.9 185.0h6.4M292.1 182.0v6"/>
<path d="M288.9 129.1h6.4M292.1 126.1v6"/>
<path d="M288.9 73.3h6.4M292.1 70.3v6"/>
<path d="M344.7 464.2h6.4M347.9 461.2v6"/>
<path d="M344.7 408.3h6.4M347.9 405.3v6"/>
<path d="M344.7 352.5h6.4M347.9 349.5v6"/>
<path d="M344.7 296.7h6.4M347.9 293.7v6"/>
<path d="M344.7 240.8h6.4M347.9 237.8v6"/>
<path d="M344.7 185.0h6.4M347.9 182.0v6"/>
<path d="M344.7 129.1h6.4M347.9 126.1v6"/>
<path d="M344.7 73.3h6.4M347.9 70.3v6"/>
<path d="M400.5 464.2h6.4M403.7 461.2v6"/>
<path d="M400.5 408.3h6.4M403.7 405.3v6"/>
<path d="M400.5 352.5h6.4M403.7 349.5v6"/>
<path d="M400.5 296.7h6.4M403.7 293.7v6"/>
<path d="M400.5 240.8h6.4M403.7 237.8v6"/>
<path d="M400.5 185.0h6.4M403.7 182.0v6"/>
<path d="M400.5 129.1h6.4M403.7 126.1v6"/>
<path d="M400.5 73.3h6.4M403.7 70.3v6"/>
<path d="M456.3 464.2h6.4M459.5 461.2v6"/>
<path d="M456.3 408.3h6.4M459.5 405.3v6"/>
<path d="M456.3 352.5h6.4M459.5 349.5v6"/>
<path d="M456.3 296.7h6.4M459.5 293.7v6"/>
<path d="M456.3 240.8h6.4M459.5 237.8v6"/>
<path d="M456.3 185.0h6.4M459.5 182.0v6"/>
<path d="M456.3 129.1h6.4M459.5 126.1v6"/>
<path d="M456.3 73.3h6.4M459.5 70.3v6"/>
<path d="M512.1 464.2h6.4M515.3 461.2v6"/>
<path d="M512.1 408.3h6.4M515.3 405.3v6"/>
<path d="M512.1 352.5h6.4M515.3 349.5v6"/>
<path d="M512.1 296.7h6.4M515.3 293.7v6"/>
<path d="M512.1 240.8h6.4M515.3 237.8v6"/>
<path d="M512.1 185.0h6.4M515.3 182.0v6"/>
<path d="M512.1 129.1h6.4M515.3 126.1v6"/>
<path d="M512.1 73.3h6.4M515.3 70.3v6"/>
<path d="M567.9 464.2h6.4M571.1 461.2v6"/>
<path d="M567.9 408.3h6.4M571.1 405.3v6"/>
<path d="M567.9 352.5h6.4M571.1 349.5v6"/>
<path d="M567.9 296.7h6.4M571.1 293.7v6"/>
<path d="M567.9 240.8h6.4M571.1 237.8v6"/>
<path d="M567.9 185.0h6.4M571.1 182.0v6"/>
<path d="M567.9 129.1h6.4M571.1 126.1v6"/>
<path d="M567.9 73.3h6.4M571.1 70.3v6"/>
<path d="M623.7 464.2h6.4M626.9 461.2v6"/>
<path d="M623.7 408.3h6.4M626.9 405.3v6"/>
<path d="M623.7 352.5h6.4M626.9 349.5v6"/>
<path d="M623.7 296.7h6.4M626.9 293.7v6"/>
<path d="M623.7 240.8h6.4M626.9 237.8v6"/>
<path d="M623.7 185.0h6.4M626.9 182.0v6"/>
<path d="M623.7 129.1h6.4M626.9 126.1v6"/>
<path d="M623.7 73.3h6.4M626.9 70.3v6"/>
</g>
<g font-size="6" font-weight="bold" fill="#111" text-anchor="middle">
<path d="M343.4 198.6h7.2l-3.6 6z"/>
<text x="347.6" y="194.2">2_0</text>
<path d="M397.2 164.2h7.2l-3.6 6z"/>
<text x="401.4" y="159.8">2_150</text>
<path d="M425.8 156.6h7.2l-3.6 6z"/>
<text x="430.0" y="152.2">2_300</text>
<path d="M475.0 142.4h7.2l-3.6 6z"/>
<text x="479.2" y="138.0">2_450</text>
<path d="M508.0 142.4h7.2l-3.6 6z"/>
<text x="512.2" y="138.0">2_600</text>
<path d="M553.2 130.6h7.2l-3.6 6z"/>
<text x="557.4" y="126.2">2_750</text>
<path d="M603.4 118.0h7.2l-3.6 6z"/>
<text x="607.6" y="113.6">2_900</text>
<path d="M638.1 110.2h7.2l-3.6 6z"/>
<text x="642.3" y="105.8">2_1050</text>
</g>
<line x1="445" y1="142.3" x2="447.9" y2="153.3" stroke="#555" stroke-width="0.7"/>
<circle cx="449" cy="157.4" r="4.3" fill="#141470" stroke="#111" stroke-width="0.6"/>
<path d="M449 157.4L445.2 155.4A4.3 4.3 0 0 1 449.6 153.1Z" fill="#c8c8c8"/>
<line x1="449" y1="157.4" x2="386.2" y2="265.4" stroke="#eeee10" stroke-width="1.7"/>
<line x1="449" y1="157.4" x2="386.2" y2="265.4" stroke="#ffff9a" stroke-width="0.5"/>
<text x="425.3" y="139.7" font-size="7.6" font-weight="bold" fill="#2323c8" textLength="35" lengthAdjust="spacingAndGlyphs">UDD-021</text>
<text x="385.5" y="108" font-size="7.1" fill="#222" textLength="167.8" lengthAdjust="spacingAndGlyphs">UDD-021, Az 180, Dip -60, Planned depth 500m</text>
<g>
<rect x="463.40" y="440.2" width="12.96" height="13.1" fill="#6051a2"/>
<rect x="476.36" y="440.2" width="12.96" height="13.1" fill="#3f77b7"/>
<rect x="489.32" y="440.2" width="12.96" height="13.1" fill="#47a0b3"/>
<rect x="502.28" y="440.2" width="12.96" height="13.1" fill="#6ec5a5"/>
<rect x="515.24" y="440.2" width="12.96" height="13.1" fill="#a2d9a4"/>
<rect x="528.20" y="440.2" width="12.96" height="13.1" fill="#cdeb9d"/>
<rect x="541.16" y="440.2" width="12.96" height="13.1" fill="#edf8a3"/>
<rect x="554.12" y="440.2" width="12.96" height="13.1" fill="#fffebe"/>
<rect x="567.08" y="440.2" width="12.96" height="13.1" fill="#fee999"/>
<rect x="580.04" y="440.2" width="12.96" height="13.1" fill="#feca79"/>
<rect x="593.00" y="440.2" width="12.96" height="13.1" fill="#fcab60"/>
<rect x="605.96" y="440.2" width="12.96" height="13.1" fill="#f8864f"/>
<rect x="618.92" y="440.2" width="12.96" height="13.1" fill="#ee5c48"/>
<rect x="631.88" y="440.2" width="12.96" height="13.1" fill="#da3e50"/>
<rect x="644.84" y="440.2" width="12.96" height="13.1" fill="#a41a46"/>
<rect x="463.40" y="440.2" width="194.80" height="13.1" fill="none" stroke="#666" stroke-width="0.5"/>
<line x1="476.36" y1="440.2" x2="476.36" y2="453.3" stroke="#555" stroke-width="0.45"/>
<line x1="489.32" y1="440.2" x2="489.32" y2="453.3" stroke="#555" stroke-width="0.45"/>
<line x1="502.28" y1="440.2" x2="502.28" y2="453.3" stroke="#555" stroke-width="0.45"/>
<line x1="515.24" y1="440.2" x2="515.24" y2="453.3" stroke="#555" stroke-width="0.45"/>
<line x1="528.20" y1="440.2" x2="528.20" y2="453.3" stroke="#555" stroke-width="0.45"/>
<line x1="541.16" y1="440.2" x2="541.16" y2="453.3" stroke="#555" stroke-width="0.45"/>
<line x1="554.12" y1="440.2" x2="554.12" y2="453.3" stroke="#555" stroke-width="0.45"/>
<line x1="567.08" y1="440.2" x2="567.08" y2="453.3" stroke="#555" stroke-width="0.45"/>
<line x1="580.04" y1="440.2" x2="580.04" y2="453.3" stroke="#555" stroke-width="0.45"/>
<line x1="593.00" y1="440.2" x2="593.00" y2="453.3" stroke="#555" stroke-width="0.45"/>
<line x1="605.96" y1="440.2" x2="605.96" y2="453.3" stroke="#555" stroke-width="0.45"/>
<line x1="618.92" y1="440.2" x2="618.92" y2="453.3" stroke="#555" stroke-width="0.45"/>
<line x1="631.88" y1="440.2" x2="631.88" y2="453.3" stroke="#555" stroke-width="0.45"/>
<line x1="644.84" y1="440.2" x2="644.84" y2="453.3" stroke="#555" stroke-width="0.45"/>
<g font-size="4.9" fill="#333" text-anchor="middle">
<text x="476.36" y="438.9">115</text>
<text x="489.32" y="438.9">140</text>
<text x="502.28" y="438.9">160</text>
<text x="515.24" y="438.9">180</text>
<text x="528.20" y="438.9">200</text>
<text x="541.16" y="438.9">230</text>
<text x="554.12" y="438.9">258</text>
<text x="567.08" y="438.9">285</text>
<text x="580.04" y="438.9">315</text>
<text x="593.00" y="438.9">350</text>
<text x="605.96" y="438.9">385</text>
<text x="618.92" y="438.9">430</text>
<text x="631.88" y="438.9">500</text>
<text x="644.84" y="438.9">600</text>
</g>
<text x="561.2" y="427.2" font-size="7.2" font-weight="bold" fill="#222" text-anchor="middle" textLength="86" lengthAdjust="spacingAndGlyphs">model electrical resistivity</text>
<text x="561.6" y="433.4" font-size="6.3" fill="#333" text-anchor="middle">[Ohm*m]</text>
</g>
</svg>
</body></html>
